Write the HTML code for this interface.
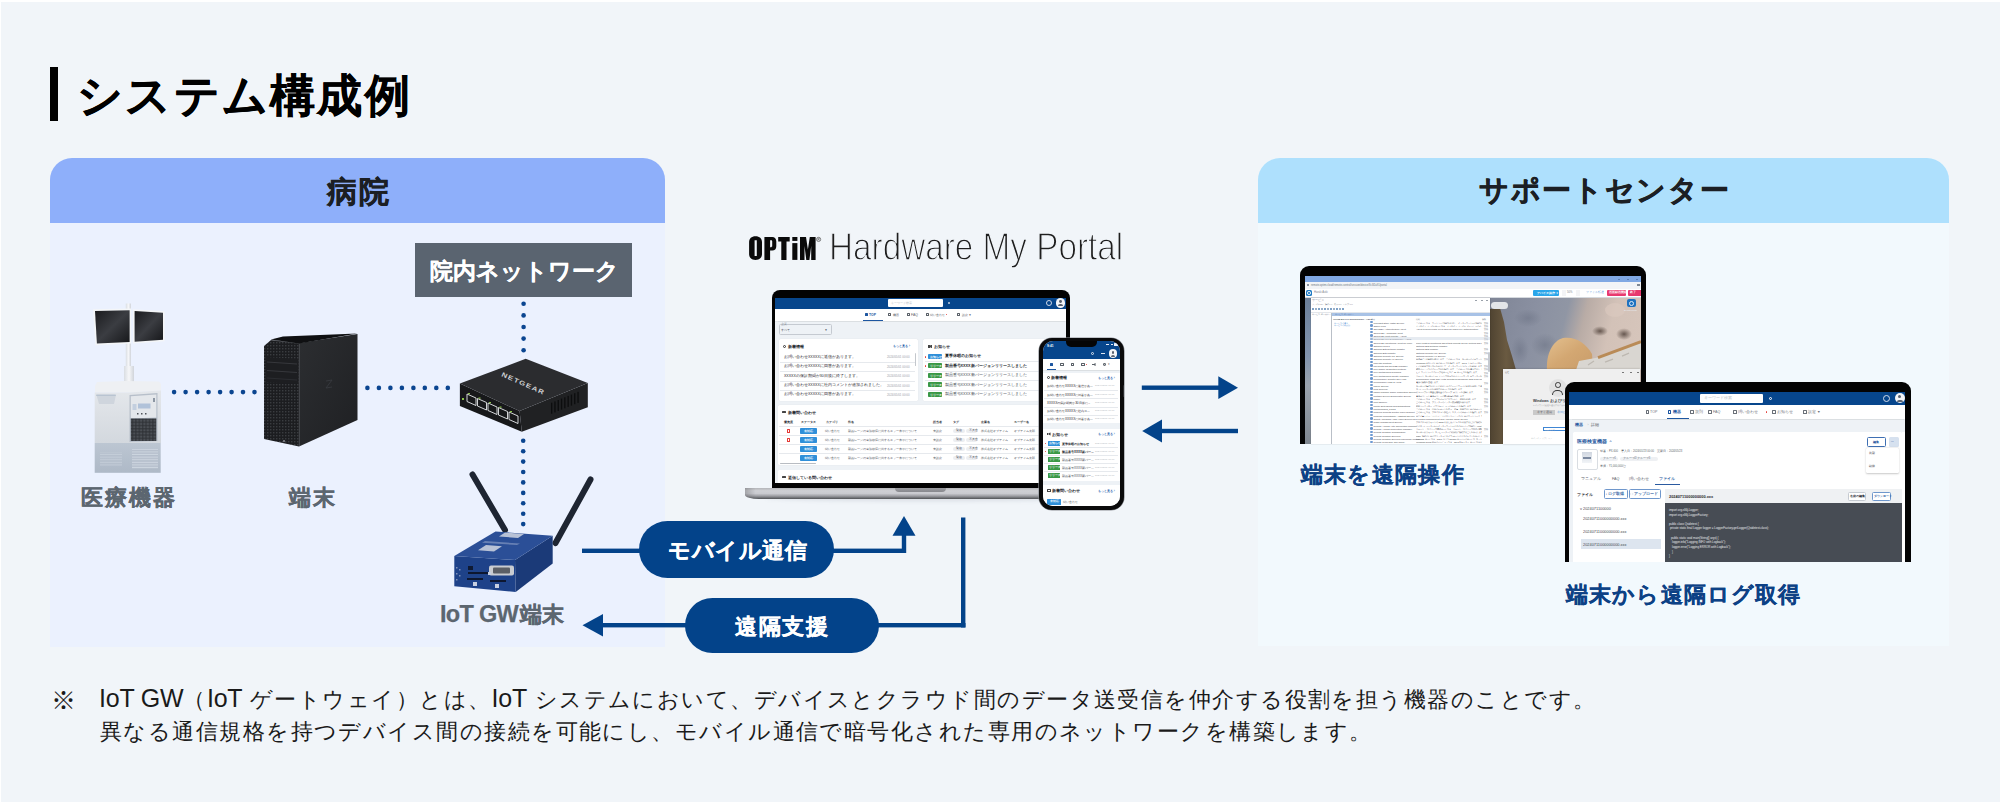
<!DOCTYPE html>
<html lang="ja">
<head>
<meta charset="utf-8">
<style>
*{box-sizing:border-box;margin:0;padding:0}
html,body{width:2001px;height:802px;overflow:hidden;background:#fff}
body{position:relative;font-family:"Liberation Sans",sans-serif}
.a{position:absolute}
.t{position:absolute;line-height:1;white-space:nowrap}
.b{-webkit-text-stroke-width:0.25px}
.bb{-webkit-text-stroke-width:0.5px}
#bg{left:1px;top:2px;width:1999px;height:800px;background:#f1f5f9}
.dot{position:absolute;width:4px;height:4px;border-radius:50%;background:#0b4a91}
</style>
</head>
<body>
<div id="bg" class="a"></div>

<!-- Title -->
<div class="a" style="left:50px;top:67px;width:7.6px;height:54px;background:#000"></div>
<div class="t" style="left:77px;top:73px;font-size:45px;font-weight:700;letter-spacing:2.3px;color:#000;-webkit-text-stroke:0.5px #000">システム構成例</div>

<!-- Hospital panel -->
<div class="a" style="left:50px;top:158px;width:615px;height:489px;background:#ebf1fe;border-radius:22px 22px 0 0;overflow:hidden">
  <div class="a" style="left:0;top:0;width:615px;height:65px;background:#8eaffa"></div>
</div>
<div class="t bb" style="left:327px;top:177px;font-size:29.5px;font-weight:700;letter-spacing:2px;color:#1c1f24">病院</div>

<!-- Net box -->
<div class="a" style="left:415px;top:242.5px;width:217px;height:54.5px;background:#5a6470"></div>
<div class="t b" style="left:430px;top:261px;font-size:22.5px;font-weight:700;letter-spacing:0px;color:#fff">院内ネットワーク</div>

<!-- Hospital devices -->
<svg class="a" style="left:0;top:0" width="700" height="660" viewBox="0 0 700 660">
  <defs>
    <linearGradient id="scr" x1="0" y1="0" x2="1" y2="1">
      <stop offset="0" stop-color="#1a1b1e"/><stop offset="0.5" stop-color="#3b3d42"/><stop offset="1" stop-color="#16171a"/>
    </linearGradient>
    <linearGradient id="pole" x1="0" y1="0" x2="1" y2="0">
      <stop offset="0" stop-color="#d9dde2"/><stop offset="0.5" stop-color="#f6f7f9"/><stop offset="1" stop-color="#d0d4da"/>
    </linearGradient>
    <linearGradient id="cabU" x1="0" y1="0" x2="0" y2="1">
      <stop offset="0" stop-color="#e4e7eb"/><stop offset="1" stop-color="#d3d8de"/>
    </linearGradient>
    <linearGradient id="cabL" x1="0" y1="0" x2="0" y2="1">
      <stop offset="0" stop-color="#bcc6d2"/><stop offset="1" stop-color="#aeb9c7"/>
    </linearGradient>
    <linearGradient id="pcside" x1="0" y1="0" x2="1" y2="1">
      <stop offset="0" stop-color="#2c2e31"/><stop offset="1" stop-color="#1f2023"/>
    </linearGradient>
    <pattern id="mesh" width="3" height="3" patternUnits="userSpaceOnUse">
      <rect width="3" height="3" fill="#1c1d20"/><rect width="1.4" height="1.4" fill="#3a3c40"/>
    </pattern>
    <pattern id="mesh2" width="3.4" height="3.2" patternUnits="userSpaceOnUse">
      <rect width="3.4" height="3.2" fill="#2e3135"/><rect x="0.4" y="0.4" width="2.4" height="2.2" fill="#4b4f55"/>
    </pattern>
    <pattern id="vent" width="3" height="2.6" patternUnits="userSpaceOnUse">
      <rect width="3" height="2.6" fill="#b5bfcc"/><rect y="1.6" width="3" height="0.8" fill="#d6dde6"/>
    </pattern>
  </defs>
  <!-- medical equipment -->
  <rect x="125.8" y="303.5" width="5.2" height="66" fill="url(#pole)"/>
  <rect x="124" y="366" width="10" height="21" fill="url(#pole)"/>
  <polygon points="93,309.3 131.2,308.4 131.2,343.5 95.4,345.3" fill="#f4f6f8"/>
  <polygon points="95,311 129.6,310.2 129.6,341.9 96.9,343.6" fill="url(#scr)"/>
  <polygon points="133,309.3 164.6,311.2 164.6,341.2 133,343.5" fill="#f4f6f8"/>
  <polygon points="134.6,311 163,312.7 163,339.7 134.6,341.8" fill="url(#scr)"/>
  <polygon points="95,386 97,382 125,381 159,381.5 161,384 161,390.5 128,392.6 95,392.6" fill="#eef0f3"/>
  <polygon points="94.7,392.6 128,392.6 161,390.5 161,443 94.7,443" fill="url(#cabU)"/>
  <path d="M96.5,395 L116,395 L114,404 L99,404 Z" fill="#cfd5dd"/>
  <rect x="96" y="394.5" width="20" height="1.6" rx="0.8" fill="#b9c4d1"/>
  <polygon points="129.5,395 157.5,393 157.5,441 129.5,442" fill="#b7bfca"/>
  <polygon points="130.8,396.2 156.3,394.4 156.3,417.5 130.8,418.5" fill="#e4e7eb"/>
  <rect x="132.5" y="404" width="4" height="6" fill="#c3cfdf"/>
  <rect x="138" y="403.5" width="12.5" height="5" fill="#b1c2d9"/>
  <rect x="153" y="398" width="2" height="4" fill="#8c96a3"/>
  <rect x="137" y="413" width="1.5" height="1.5" fill="#50545a"/><rect x="141" y="413" width="1.5" height="1.5" fill="#50545a"/><rect x="145" y="413" width="1.5" height="1.5" fill="#50545a"/>
  <rect x="130.8" y="418.5" width="25.5" height="22.5" fill="url(#mesh2)"/>
  <rect x="94.7" y="443" width="66" height="29.8" fill="url(#cabL)"/>
  <rect x="132" y="449" width="26" height="20" fill="url(#vent)"/>
  <rect x="100" y="452" width="22" height="14" fill="url(#vent)" opacity="0.6"/>
  <!-- PC tower -->
  <polygon points="299,343 357.5,334 357.5,420 299,446.5" fill="url(#pcside)"/>
  <polygon points="264,346 271,340 299,343 299,446.5 264,439" fill="url(#mesh)"/>
  <polygon points="266,357 298,359 298,384 266,382" fill="#1d1e21"/>
  <line x1="267" y1="362" x2="297" y2="364" stroke="#3c3e43" stroke-width="0.8"/>
  <line x1="267" y1="370.5" x2="297" y2="372.5" stroke="#3c3e43" stroke-width="0.8"/>
  <line x1="267" y1="378" x2="297" y2="380" stroke="#34363a" stroke-width="0.6"/>
  <line x1="299.3" y1="343.5" x2="299.3" y2="446" stroke="#4a4d52" stroke-width="1"/>
  <line x1="271" y1="340" x2="299" y2="343.2" stroke="#55585d" stroke-width="0.8"/>
  <circle cx="284" cy="441" r="1" fill="#8a8d92"/>
  <polygon points="271,339.5 283,336.5 357.5,333.5 299,343.5" fill="#0f1012"/>
  <path d="M326,381 l6,-1 l-6,8 l6,-1" stroke="#3a3c41" stroke-width="0.8" fill="none"/>
  <!-- network switch -->
  <polygon points="459.9,383.4 519.6,411.1 521.8,431.7 459.9,406.1" fill="#17181a"/>
  <polygon points="519.6,411.1 587.8,383.1 587.8,407.2 521.8,431.7" fill="#202123"/>
  <polygon points="525.7,358.8 587.8,383.1 519.6,411.1 459.9,383.4" fill="#2b2c2f"/>
  <g fill="none" stroke="#e8eaec" stroke-width="0.9">
    <polygon points="467,394 476,398 476,405.5 467,401.5"/>
    <polygon points="477.5,398.5 486.5,402.5 486.5,410 477.5,406"/>
    <polygon points="488,403 497,407 497,414.5 488,410.5"/>
    <polygon points="498.5,407.5 507.5,411.5 507.5,419 498.5,415"/>
    <polygon points="509,412 518,416 518,423.5 509,419.5"/>
  </g>
  <g fill="#8bc34a">
    <rect x="468" y="393" width="2" height="1.2"/><rect x="478.5" y="397.5" width="2" height="1.2"/><rect x="489" y="402" width="2" height="1.2"/><rect x="499.5" y="406.5" width="2" height="1.2"/><rect x="510" y="411" width="2" height="1.2"/><rect x="462" y="398" width="2" height="2"/>
  </g>
  <g><rect x="551.0" y="402.7" width="1.3" height="11" fill="#0c0d0e"/><rect x="554.3" y="401.4" width="1.3" height="11" fill="#0c0d0e"/><rect x="557.6" y="400.0" width="1.3" height="11" fill="#0c0d0e"/><rect x="560.9" y="398.6" width="1.3" height="11" fill="#0c0d0e"/><rect x="564.2" y="397.3" width="1.3" height="11" fill="#0c0d0e"/><rect x="567.5" y="395.9" width="1.3" height="11" fill="#0c0d0e"/><rect x="570.8" y="394.6" width="1.3" height="11" fill="#0c0d0e"/><rect x="574.1" y="393.2" width="1.3" height="11" fill="#0c0d0e"/><rect x="577.4" y="391.9" width="1.3" height="11" fill="#0c0d0e"/></g>
  <text x="0" y="0" transform="translate(501,376) rotate(24) scale(1,0.8)" font-family="Liberation Sans" font-weight="700" font-size="8" letter-spacing="1.1" fill="#cfd1d4">NETGEAR</text>
  <!-- IoT router antennas -->
  <line x1="472.5" y1="474.5" x2="505" y2="530" stroke="#1e2532" stroke-width="6" stroke-linecap="round"/>
  <line x1="590.5" y1="479.5" x2="555.5" y2="543" stroke="#1e2532" stroke-width="6" stroke-linecap="round"/>
  <!-- IoT router body -->
  <polygon points="454.3,555.9 515,560 515.7,592.1 454.3,586.2" fill="#1e4289"/>
  <polygon points="515,560 552.7,535.7 552.7,563.5 515.7,592.1" fill="#1b3a78"/>
  <polygon points="454.3,555.9 495.5,531.5 552.7,535.7 515,560" fill="#2b4f97"/>
  <polygon points="505,532.5 524,534 518,538 499,536.5" fill="#b8c2d6"/>
  <polygon points="486,545 502,546.2 494,551.5 478,550.3" fill="#b8c2d6"/>
  <polygon points="485,541 520,543.5 517,545 482,542.8" fill="#8fa2c8" opacity="0.6"/>
  <rect x="489" y="565.5" width="25" height="10" rx="2" fill="#c9ccd1"/>
  <rect x="493" y="567.5" width="17" height="6" rx="1" fill="#5b5f66"/>
  <rect x="468" y="566" width="5" height="4" fill="#0f1a33"/>
  <rect x="468" y="572" width="20" height="2" fill="#0d1730"/>
  <rect x="467" y="578" width="16" height="2" fill="#0d1730"/>
  <rect x="490" y="580" width="16" height="2" fill="#0d1730"/>
  <rect x="473" y="582" width="4" height="4" fill="#c8d0e0"/>
  <rect x="495" y="584" width="4" height="4" fill="#c8d0e0"/>
  <rect x="488" y="572" width="3" height="3" fill="#c8d0e0"/>
  <g fill="#7d8fb8"><rect x="456" y="567" width="1.5" height="1.5"/><rect x="459" y="569" width="1.5" height="1.5"/><rect x="456" y="573" width="1.5" height="1.5"/><rect x="459" y="575" width="1.5" height="1.5"/><rect x="456" y="579" width="1.5" height="1.5"/></g>
  <!-- dots -->
  <g fill="#0a4590">
  <circle cx="174.1" cy="392.1" r="2.3"/><circle cx="185.6" cy="392.1" r="2.3"/><circle cx="197.1" cy="392.1" r="2.3"/><circle cx="208.6" cy="392.1" r="2.3"/><circle cx="220.1" cy="392.1" r="2.3"/><circle cx="231.6" cy="392.1" r="2.3"/><circle cx="243.0" cy="392.1" r="2.3"/><circle cx="254.5" cy="392.1" r="2.3"/><circle cx="367.4" cy="387.9" r="2.3"/><circle cx="378.9" cy="387.9" r="2.3"/><circle cx="390.4" cy="387.9" r="2.3"/><circle cx="401.9" cy="387.9" r="2.3"/><circle cx="413.4" cy="387.9" r="2.3"/><circle cx="424.8" cy="387.9" r="2.3"/><circle cx="436.3" cy="387.9" r="2.3"/><circle cx="447.8" cy="387.9" r="2.3"/><circle cx="523.6" cy="303.8" r="2.3"/><circle cx="523.6" cy="315.4" r="2.3"/><circle cx="523.6" cy="327.0" r="2.3"/><circle cx="523.6" cy="338.6" r="2.3"/><circle cx="523.6" cy="350.2" r="2.3"/><circle cx="523.2" cy="440.8" r="2.3"/><circle cx="523.2" cy="451.2" r="2.3"/><circle cx="523.2" cy="461.6" r="2.3"/><circle cx="523.2" cy="472.0" r="2.3"/><circle cx="523.2" cy="482.4" r="2.3"/><circle cx="523.2" cy="492.9" r="2.3"/><circle cx="523.2" cy="503.3" r="2.3"/><circle cx="523.2" cy="513.7" r="2.3"/><circle cx="523.2" cy="524.1" r="2.3"/>
  </g>
</svg>

<!-- Labels -->
<div class="t b" style="left:81px;top:487px;font-size:22px;font-weight:700;letter-spacing:2px;color:#5c6670">医療機器</div>
<div class="t b" style="left:289px;top:487px;font-size:22px;font-weight:700;letter-spacing:1.8px;color:#5c6670">端末</div>
<div class="t b" style="left:440px;top:603px;font-size:22px;font-weight:700;letter-spacing:0.4px;color:#5c6670"><span style="font-size:23.5px;letter-spacing:-0.7px;margin-right:1.8px">IoT GW</span>端末</div>

<!-- Support panel -->
<div class="a" style="left:1258px;top:158px;width:691px;height:488px;background:#f2f9fd;border-radius:22px 22px 0 0;overflow:hidden">
  <div class="a" style="left:0;top:0;width:691px;height:65px;background:#aee0fd"></div>
</div>
<div class="t bb" style="left:1479px;top:175.5px;font-size:29px;font-weight:700;letter-spacing:1.7px;color:#1c1f24">サポートセンター</div>

<div class="t b" style="left:1300.5px;top:464px;font-size:22px;font-weight:700;letter-spacing:1.4px;color:#0d4185">端末を遠隔操作</div>
<div class="t b" style="left:1566px;top:584px;font-size:22px;font-weight:700;letter-spacing:1.15px;color:#0d4185">端末から遠隔ログ取得</div>

<!-- Pills -->
<div class="a" style="left:639px;top:521px;width:194.5px;height:57px;border-radius:28.5px;background:#03438a"></div>
<div class="t b" style="left:668px;top:540px;font-size:22px;font-weight:700;letter-spacing:0.55px;color:#fff">モバイル通信</div>
<div class="a" style="left:684.5px;top:597.5px;width:194px;height:55.5px;border-radius:28px;background:#03438a"></div>
<div class="t b" style="left:735px;top:616px;font-size:22px;font-weight:700;letter-spacing:1.7px;color:#fff">遠隔支援</div>

<!-- Connectors -->
<svg class="a" style="left:0;top:0" width="2001" height="802" viewBox="0 0 2001 802">
  <g fill="#03438a">
    <rect x="582" y="548.6" width="58" height="4.4"/>
    <rect x="832" y="548.6" width="74" height="4.4"/>
    <rect x="901.8" y="534" width="4.4" height="19"/>
    <polygon points="904,516 892.5,535.8 915.5,535.8"/>
    <rect x="877" y="623" width="88.5" height="4.4"/>
    <rect x="961" y="517.5" width="4.4" height="110"/>
    <rect x="600" y="623" width="86" height="4.4"/>
    <polygon points="582.5,625.2 603,614 603,636.6"/>
    <rect x="1141.8" y="385.5" width="78" height="4.4"/>
    <polygon points="1238,387.7 1218.3,376.2 1218.3,399"/>
    <rect x="1160" y="428.8" width="78" height="4.4"/>
    <polygon points="1142.2,431 1162,419.6 1162,442.5"/>
  </g>
</svg>

<!-- Central mockup -->
<div class="a" style="left:765px;top:494px;width:320px;height:7px;border-radius:50%;background:rgba(60,70,90,0.13);filter:blur(2px)"></div>
<div class="a" style="left:745.0px;top:487.8px;width:351.2px;height:11.4px;background:linear-gradient(90deg,rgba(90,90,95,0.35),rgba(0,0,0,0) 3%,rgba(0,0,0,0) 97%,rgba(90,90,95,0.35)),linear-gradient(#b4b5b9 0%,#cfd0d4 25%,#c9cacf 50%,#9fa0a5 72%,#6c6e72 90%,#4f5155 100%);border-radius:0 0 14px 14px/0 0 4px 4px"></div>
<div class="a" style="left:894.8px;top:487.8px;width:51.5px;height:4.4px;background:linear-gradient(#9a9ba0,#88898e);border-radius:0 0 5px 5px"></div>
<div class="a" style="left:771.5px;top:289.5px;width:298.2px;height:198.5px;background:#030303;border-radius:8px 8px 0 0"></div>
<div class="a" style="left:775.2px;top:297.7px;width:290.8px;height:185.3px;background:#eef2f6;"></div>
<div class="a" style="left:775.2px;top:297.7px;width:290.8px;height:11.3px;background:#07468c;"></div>
<div class="a" style="left:888.0px;top:299.2px;width:55.2px;height:7.5px;background:#fff;border-radius:1px"></div>
<div class="t" style="left:891.0px;top:302.0px;font-size:3.3px;color:#b8bec6;font-weight:400;">キーワード検索</div>
<div class="a" style="left:947.7px;top:301.5px;width:2.6px;height:2.6px;border-radius:50%;background:none;border:0.8px solid #fff"></div>
<div class="a" style="left:1045.7px;top:299.7px;width:6.6px;height:6.6px;border-radius:50%;background:none;border:0.8px solid #cfd8e6"></div>
<div class="a" style="left:1055.9px;top:298.4px;width:9.2px;height:9.2px;border-radius:50%;background:#f3f5f8;"></div>
<div class="a" style="left:1059.1px;top:300.2px;width:2.8px;height:2.8px;border-radius:50%;background:#5a6270;"></div>
<div class="a" style="left:1057.8px;top:304.2px;width:5.4px;height:1.8px;background:#5a6270;border-radius:2px 2px 0 0"></div>
<div class="a" style="left:775.2px;top:309.0px;width:290.8px;height:11.6px;background:#fff;box-shadow:0 0.5px 1px rgba(0,0,0,0.08)"></div>
<div class="a" style="left:864.5px;top:313.0px;width:3.0px;height:3.2px;background:#1d56a0;border-radius:0.5px"></div>
<div class="t" style="left:869.0px;top:313.5px;font-size:3.4px;color:#1d56a0;font-weight:700;">TOP</div>
<div class="a" style="left:863.0px;top:319.6px;width:20.3px;height:1.0px;background:#1d56a0;"></div>
<div class="a" style="left:888.0px;top:313.1px;width:3.2px;height:3.0px;background:none;border:0.6px solid #5a6068;border-radius:0.6px"></div>
<div class="t" style="left:892.5px;top:313.5px;font-size:3.4px;color:#5a6068;font-weight:400;">機器</div>
<div class="a" style="left:906.5px;top:313.1px;width:3.2px;height:3.0px;background:none;border:0.6px solid #5a6068;border-radius:0.6px"></div>
<div class="t" style="left:911.0px;top:313.5px;font-size:3.4px;color:#5a6068;font-weight:400;">FAQ</div>
<div class="a" style="left:925.5px;top:313.1px;width:3.2px;height:3.0px;background:none;border:0.6px solid #5a6068;border-radius:0.6px"></div>
<div class="t" style="left:930.0px;top:313.5px;font-size:3.4px;color:#5a6068;font-weight:400;">問い合わせ</div>
<div class="a" style="left:957.0px;top:313.1px;width:3.2px;height:3.0px;background:none;border:0.6px solid #5a6068;border-radius:0.6px"></div>
<div class="t" style="left:961.5px;top:313.5px;font-size:3.4px;color:#5a6068;font-weight:400;">設定</div>
<div class="a" style="left:945.6px;top:313.7px;width:1.8px;height:1.8px;border-radius:50%;background:#e53935;"></div>
<div class="t" style="left:968.5px;top:313.7px;font-size:3px;color:#5a6068;font-weight:400;">▼</div>
<div class="a" style="left:778.5px;top:324.2px;width:53.9px;height:10.9px;background:transparent;border:0.6px solid #c5cad1;border-radius:1.5px"></div>
<div class="t" style="left:781.0px;top:324.3px;font-size:2.6px;color:#8a9099;font-weight:400;">企業</div>
<div class="t" style="left:781.0px;top:329.0px;font-size:3.3px;color:#40464e;font-weight:400;">すべて</div>
<div class="t" style="left:824.5px;top:329.1px;font-size:3px;color:#4a5058;font-weight:400;">▼</div>
<div class="a" style="left:778.5px;top:339.2px;width:139.9px;height:61.8px;background:#fff;border-radius:1.5px;box-shadow:0 0 1px rgba(0,0,0,0.12)"></div>
<div class="a" style="left:782.7px;top:344.6px;width:3.6px;height:3.6px;border-radius:50%;background:none;border:0.7px solid #333"></div>
<div class="t" style="left:788.0px;top:344.9px;font-size:4.1px;color:#26292e;font-weight:700;">新着情報</div>
<div class="t" style="left:893.0px;top:345.4px;font-size:3.3px;color:#2c63ad;font-weight:700;">もっと見る ›</div>
<div class="t" style="left:784.0px;top:355.8px;font-size:3.55px;color:#1e2228;font-weight:400;">お問い合わせXXXXXに返信があります。</div>
<div class="t" style="left:887.0px;top:356.2px;font-size:2.9px;color:#9aa0a8;font-weight:400;">2024/05/01 00:00</div>
<div class="a" style="left:780.0px;top:361.6px;width:135.0px;height:0.5px;background:#e6e9ed;"></div>
<div class="t" style="left:784.0px;top:365.3px;font-size:3.55px;color:#1e2228;font-weight:400;">お問い合わせXXXXXに回答があります。</div>
<div class="t" style="left:887.0px;top:365.7px;font-size:2.9px;color:#9aa0a8;font-weight:400;">2024/05/01 00:00</div>
<div class="a" style="left:780.0px;top:371.1px;width:135.0px;height:0.5px;background:#e6e9ed;"></div>
<div class="t" style="left:784.0px;top:374.8px;font-size:3.55px;color:#1e2228;font-weight:400;">XXXXXの保証期間が30日後に終了します。</div>
<div class="t" style="left:887.0px;top:375.2px;font-size:2.9px;color:#9aa0a8;font-weight:400;">2024/05/01 00:00</div>
<div class="a" style="left:780.0px;top:380.6px;width:135.0px;height:0.5px;background:#e6e9ed;"></div>
<div class="t" style="left:784.0px;top:384.1px;font-size:3.55px;color:#1e2228;font-weight:400;">お問い合わせXXXXXに社内コメントが追加されました。</div>
<div class="t" style="left:887.0px;top:384.5px;font-size:2.9px;color:#9aa0a8;font-weight:400;">2024/05/01 00:00</div>
<div class="a" style="left:780.0px;top:389.9px;width:135.0px;height:0.5px;background:#e6e9ed;"></div>
<div class="t" style="left:784.0px;top:393.4px;font-size:3.55px;color:#1e2228;font-weight:400;">お問い合わせXXXXXに回答があります。</div>
<div class="t" style="left:887.0px;top:393.8px;font-size:2.9px;color:#9aa0a8;font-weight:400;">2024/05/01 00:00</div>
<div class="a" style="left:915.0px;top:353.0px;width:1.4px;height:13.0px;background:#c3c7cc;border-radius:1px"></div>
<div class="a" style="left:923.0px;top:339.2px;width:141.0px;height:61.8px;background:#fff;border-radius:1.5px;box-shadow:0 0 1px rgba(0,0,0,0.12)"></div>
<div class="a" style="left:928.0px;top:345.2px;width:1.6px;height:2.4px;background:#444;"></div>
<div class="a" style="left:929.6px;top:344.6px;width:2.4px;height:3.6px;background:#444;clip-path:polygon(0 30%,100% 0,100% 100%,0 70%)"></div>
<div class="t" style="left:934.0px;top:344.9px;font-size:4.1px;color:#26292e;font-weight:700;">お知らせ</div>
<div class="a" style="left:928.0px;top:354.1px;width:14.4px;height:5.0px;background:#2f8fd9;border-radius:0.8px"></div>
<div class="t" style="left:929.5px;top:355.9px;font-size:2.8px;color:#fff;font-weight:700;">お知らせ</div>
<div class="a" style="left:924.7px;top:355.8px;width:1.8px;height:1.8px;border-radius:50%;background:#e53935;"></div>
<div class="t" style="left:944.5px;top:355.4px;font-size:3.8px;color:#23272d;font-weight:700;">夏季休暇のお知らせ</div>
<div class="a" style="left:925.0px;top:361.3px;width:135.0px;height:0.5px;background:#e6e9ed;"></div>
<div class="a" style="left:928.0px;top:363.4px;width:14.4px;height:5.0px;background:#3a9846;border-radius:0.8px"></div>
<div class="t" style="left:929.5px;top:365.2px;font-size:2.8px;color:#fff;font-weight:700;">リリース</div>
<div class="a" style="left:924.7px;top:365.1px;width:1.8px;height:1.8px;border-radius:50%;background:#e53935;"></div>
<div class="t" style="left:944.5px;top:364.7px;font-size:3.8px;color:#23272d;font-weight:700;">製品番号XXXX新バージョンリリースしました</div>
<div class="a" style="left:925.0px;top:370.6px;width:135.0px;height:0.5px;background:#e6e9ed;"></div>
<div class="a" style="left:928.0px;top:372.9px;width:14.4px;height:5.0px;background:#3a9846;border-radius:0.8px"></div>
<div class="t" style="left:929.5px;top:374.7px;font-size:2.8px;color:#fff;font-weight:700;">リリース</div>
<div class="t" style="left:944.5px;top:374.2px;font-size:3.8px;color:#4a5058;font-weight:400;">製品番号XXXX新バージョンリリースしました</div>
<div class="a" style="left:925.0px;top:380.1px;width:135.0px;height:0.5px;background:#e6e9ed;"></div>
<div class="a" style="left:928.0px;top:382.4px;width:14.4px;height:5.0px;background:#3a9846;border-radius:0.8px"></div>
<div class="t" style="left:929.5px;top:384.2px;font-size:2.8px;color:#fff;font-weight:700;">リリース</div>
<div class="t" style="left:944.5px;top:383.7px;font-size:3.8px;color:#4a5058;font-weight:400;">製品番号XXXX新バージョンリリースしました</div>
<div class="a" style="left:925.0px;top:389.6px;width:135.0px;height:0.5px;background:#e6e9ed;"></div>
<div class="a" style="left:928.0px;top:391.9px;width:14.4px;height:5.0px;background:#3a9846;border-radius:0.8px"></div>
<div class="t" style="left:929.5px;top:393.7px;font-size:2.8px;color:#fff;font-weight:700;">リリース</div>
<div class="t" style="left:944.5px;top:393.2px;font-size:3.8px;color:#4a5058;font-weight:400;">製品番号XXXX新バージョンリリースしました</div>
<div class="a" style="left:778.4px;top:404.8px;width:285.6px;height:60.0px;background:#fff;border-radius:1.5px;box-shadow:0 0 1px rgba(0,0,0,0.12)"></div>
<div class="a" style="left:782.0px;top:410.5px;width:4.0px;height:2.8px;background:none;border:0.6px solid #444;border-radius:0.5px"></div>
<div class="t" style="left:788.0px;top:410.6px;font-size:4.1px;color:#26292e;font-weight:700;">新着問い合わせ</div>
<div class="t" style="left:784.0px;top:421.4px;font-size:3.1px;color:#2b3036;font-weight:700;">優先度</div>
<div class="t" style="left:801.0px;top:421.4px;font-size:3.1px;color:#2b3036;font-weight:700;">ステータス</div>
<div class="t" style="left:826.0px;top:421.4px;font-size:3.1px;color:#2b3036;font-weight:700;">カテゴリ</div>
<div class="t" style="left:848.0px;top:421.4px;font-size:3.1px;color:#2b3036;font-weight:700;">件名</div>
<div class="t" style="left:933.0px;top:421.4px;font-size:3.1px;color:#2b3036;font-weight:700;">担当者</div>
<div class="t" style="left:953.0px;top:421.4px;font-size:3.1px;color:#2b3036;font-weight:700;">タグ</div>
<div class="t" style="left:981.0px;top:421.4px;font-size:3.1px;color:#2b3036;font-weight:700;">企業名</div>
<div class="t" style="left:1014.0px;top:421.4px;font-size:3.1px;color:#2b3036;font-weight:700;">ユーザー名</div>
<div class="a" style="left:779.0px;top:426.4px;width:285.0px;height:0.5px;background:#e6e9ed;"></div>
<div class="a" style="left:787.0px;top:429.4px;width:3.2px;height:3.2px;background:#fff;border:0.6px solid #e53935;border-radius:0.5px"></div>
<div class="a" style="left:800.0px;top:428.4px;width:17.0px;height:5.2px;background:#2f8fd9;border-radius:0.8px"></div>
<div class="t" style="left:804.0px;top:430.2px;font-size:2.8px;color:#fff;font-weight:700;">未対応</div>
<div class="t" style="left:825.0px;top:430.1px;font-size:3.1px;color:#4f555d;font-weight:400;">問い合わせ</div>
<div class="t" style="left:848.0px;top:430.1px;font-size:3.1px;color:#4f555d;font-weight:400;">製品レーンの電源故障に関するエラー表示について</div>
<div class="t" style="left:933.0px;top:430.1px;font-size:3.1px;color:#4f555d;font-weight:400;">未設定</div>
<div class="a" style="left:953.0px;top:428.9px;width:12.0px;height:4.2px;background:#eceef1;border-radius:2px"></div>
<div class="a" style="left:966.0px;top:428.9px;width:11.0px;height:4.2px;background:#eceef1;border-radius:2px"></div>
<div class="t" style="left:956.0px;top:430.2px;font-size:2.7px;color:#4f555d;font-weight:400;">緊急</div>
<div class="t" style="left:968.5px;top:430.2px;font-size:2.7px;color:#4f555d;font-weight:400;">不具合</div>
<div class="t" style="left:981.0px;top:430.1px;font-size:3.1px;color:#4f555d;font-weight:400;">株式会社オプティム</div>
<div class="t" style="left:1014.0px;top:430.1px;font-size:3.1px;color:#4f555d;font-weight:400;">オプティム太郎</div>
<div class="a" style="left:779.0px;top:435.4px;width:285.0px;height:0.5px;background:#e6e9ed;"></div>
<div class="a" style="left:787.0px;top:438.4px;width:3.2px;height:3.2px;background:#fff;border:0.6px solid #e53935;border-radius:0.5px"></div>
<div class="a" style="left:800.0px;top:437.4px;width:17.0px;height:5.2px;background:#2f8fd9;border-radius:0.8px"></div>
<div class="t" style="left:804.0px;top:439.2px;font-size:2.8px;color:#fff;font-weight:700;">未対応</div>
<div class="t" style="left:825.0px;top:439.1px;font-size:3.1px;color:#4f555d;font-weight:400;">問い合わせ</div>
<div class="t" style="left:848.0px;top:439.1px;font-size:3.1px;color:#4f555d;font-weight:400;">製品レーンの電源故障に関するエラー表示について</div>
<div class="t" style="left:933.0px;top:439.1px;font-size:3.1px;color:#4f555d;font-weight:400;">未設定</div>
<div class="a" style="left:953.0px;top:437.9px;width:12.0px;height:4.2px;background:#eceef1;border-radius:2px"></div>
<div class="a" style="left:966.0px;top:437.9px;width:11.0px;height:4.2px;background:#eceef1;border-radius:2px"></div>
<div class="t" style="left:956.0px;top:439.2px;font-size:2.7px;color:#4f555d;font-weight:400;">緊急</div>
<div class="t" style="left:968.5px;top:439.2px;font-size:2.7px;color:#4f555d;font-weight:400;">不具合</div>
<div class="t" style="left:981.0px;top:439.1px;font-size:3.1px;color:#4f555d;font-weight:400;">株式会社オプティム</div>
<div class="t" style="left:1014.0px;top:439.1px;font-size:3.1px;color:#4f555d;font-weight:400;">オプティム太郎</div>
<div class="a" style="left:779.0px;top:444.4px;width:285.0px;height:0.5px;background:#e6e9ed;"></div>
<div class="a" style="left:800.0px;top:446.4px;width:17.0px;height:5.2px;background:#2f8fd9;border-radius:0.8px"></div>
<div class="t" style="left:804.0px;top:448.2px;font-size:2.8px;color:#fff;font-weight:700;">未対応</div>
<div class="t" style="left:825.0px;top:448.1px;font-size:3.1px;color:#4f555d;font-weight:400;">問い合わせ</div>
<div class="t" style="left:848.0px;top:448.1px;font-size:3.1px;color:#4f555d;font-weight:400;">製品レーンの電源故障に関するエラー表示について</div>
<div class="t" style="left:933.0px;top:448.1px;font-size:3.1px;color:#4f555d;font-weight:400;">未設定</div>
<div class="a" style="left:953.0px;top:446.9px;width:12.0px;height:4.2px;background:#eceef1;border-radius:2px"></div>
<div class="a" style="left:966.0px;top:446.9px;width:11.0px;height:4.2px;background:#eceef1;border-radius:2px"></div>
<div class="t" style="left:956.0px;top:448.2px;font-size:2.7px;color:#4f555d;font-weight:400;">緊急</div>
<div class="t" style="left:968.5px;top:448.2px;font-size:2.7px;color:#4f555d;font-weight:400;">不具合</div>
<div class="t" style="left:981.0px;top:448.1px;font-size:3.1px;color:#4f555d;font-weight:400;">株式会社オプティム</div>
<div class="t" style="left:1014.0px;top:448.1px;font-size:3.1px;color:#4f555d;font-weight:400;">オプティム太郎</div>
<div class="a" style="left:779.0px;top:453.4px;width:285.0px;height:0.5px;background:#e6e9ed;"></div>
<div class="a" style="left:800.0px;top:455.4px;width:17.0px;height:5.2px;background:#2f8fd9;border-radius:0.8px"></div>
<div class="t" style="left:804.0px;top:457.2px;font-size:2.8px;color:#fff;font-weight:700;">未対応</div>
<div class="t" style="left:825.0px;top:457.1px;font-size:3.1px;color:#4f555d;font-weight:400;">問い合わせ</div>
<div class="t" style="left:848.0px;top:457.1px;font-size:3.1px;color:#4f555d;font-weight:400;">製品レーンの電源故障に関するエラー表示について</div>
<div class="t" style="left:933.0px;top:457.1px;font-size:3.1px;color:#4f555d;font-weight:400;">未設定</div>
<div class="a" style="left:953.0px;top:455.9px;width:12.0px;height:4.2px;background:#eceef1;border-radius:2px"></div>
<div class="a" style="left:966.0px;top:455.9px;width:11.0px;height:4.2px;background:#eceef1;border-radius:2px"></div>
<div class="t" style="left:956.0px;top:457.2px;font-size:2.7px;color:#4f555d;font-weight:400;">緊急</div>
<div class="t" style="left:968.5px;top:457.2px;font-size:2.7px;color:#4f555d;font-weight:400;">不具合</div>
<div class="t" style="left:981.0px;top:457.1px;font-size:3.1px;color:#4f555d;font-weight:400;">株式会社オプティム</div>
<div class="t" style="left:1014.0px;top:457.1px;font-size:3.1px;color:#4f555d;font-weight:400;">オプティム太郎</div>
<div class="a" style="left:780.0px;top:462.5px;width:36.0px;height:1.1px;background:#b8bcc2;border-radius:1px"></div>
<div class="a" style="left:778.4px;top:469.6px;width:285.6px;height:13.4px;background:#fff;border-radius:1.5px 1.5px 0 0"></div>
<div class="a" style="left:782.0px;top:475.6px;width:4.0px;height:2.8px;background:none;border:0.6px solid #444;border-radius:0.5px"></div>
<div class="t" style="left:788.0px;top:475.6px;font-size:4.1px;color:#26292e;font-weight:700;">返信している問い合わせ</div>
<div class="a" style="left:1038.8px;top:338px;width:85px;height:172px;border-radius:13px;background:#0a0a0b;box-shadow:0 0 0 0.6px #8d9096"></div>
<div class="a" style="left:1122.6px;top:385.0px;width:1.7px;height:12.0px;background:#2a2b2e;border-radius:1px"></div>
<div class="a" style="left:1042.5px;top:341.2px;width:77.5px;height:165.1px;border-radius:10px;background:#eef2f6;overflow:hidden">
<div class="a" style="left:0.0px;top:0.0px;width:77.5px;height:18.3px;background:#07468c;"></div>
<div class="a" style="left:23.2px;top:-1.0px;width:31.1px;height:7.3px;background:#050505;border-radius:0 0 5px 5px"></div>
<div class="t" style="left:4.5px;top:3.8px;font-size:3.3px;color:#eef3fa;font-weight:700">9:41</div>
<div class="a" style="left:63.5px;top:2.5px;width:3.0px;height:1.6px;background:#e8eef7;"></div>
<div class="a" style="left:68.0px;top:2.5px;width:2.5px;height:1.6px;background:#e8eef7;"></div>
<div class="a" style="left:71.5px;top:2.1px;width:4.0px;height:2.4px;background:#e8eef7;border-radius:0.5px"></div>
<div class="a" style="left:48.5px;top:10.8px;width:3.0px;height:3.0px;background:none;border-radius:50%;border:0.8px solid #dfe6f0"></div>
<div class="a" style="left:58.5px;top:12.2px;width:4.0px;height:0.9px;background:#dfe6f0;"></div>
<div class="a" style="left:66.1px;top:8.2px;width:8.8px;height:8.8px;background:#f3f5f8;border-radius:50%;"></div>
<div class="a" style="left:69.2px;top:9.9px;width:2.6px;height:2.6px;background:#5a6270;border-radius:50%;"></div>
<div class="a" style="left:68.1px;top:13.8px;width:4.8px;height:1.8px;background:#5a6270;border-radius:2px 2px 0 0"></div>
<div class="a" style="left:0.0px;top:18.3px;width:77.5px;height:10.1px;background:#fff;box-shadow:0 0.5px 1px rgba(0,0,0,0.08)"></div>
<div class="a" style="left:7.0px;top:21.8px;width:3.5px;height:3.2px;background:#1d56a0;border-radius:0.5px"></div>
<div class="a" style="left:4.1px;top:27.4px;width:9.9px;height:1.0px;background:#1d56a0;"></div>
<div class="a" style="left:17.8px;top:21.7px;width:3.4px;height:3.2px;background:none;border:0.6px solid #5a6068;border-radius:0.6px"></div>
<div class="a" style="left:28.3px;top:21.7px;width:3.4px;height:3.2px;background:none;border:0.6px solid #5a6068;border-radius:0.6px"></div>
<div class="a" style="left:38.8px;top:21.7px;width:3.4px;height:3.2px;background:none;border:0.6px solid #5a6068;border-radius:0.6px"></div>
<div class="a" style="left:43.0px;top:22.5px;width:1.6px;height:1.6px;background:#e53935;border-radius:50%;"></div>
<div class="a" style="left:49.8px;top:22.4px;width:1.3px;height:1.8px;background:#5a6068;"></div>
<div class="a" style="left:51.1px;top:21.8px;width:2.0px;height:3.0px;background:#5a6068;clip-path:polygon(0 30%,100% 0,100% 100%,0 70%)"></div>
<div class="a" style="left:60.5px;top:21.7px;width:3.4px;height:3.2px;background:none;border:0.6px solid #5a6068;border-radius:50%"></div>
<div class="t" style="left:65.0px;top:22.6px;font-size:2.6px;color:#5a6068;font-weight:400">▼</div>
<div class="a" style="left:0.5px;top:31.4px;width:76.5px;height:50.7px;background:#fff;"></div>
<div class="a" style="left:4.2px;top:34.7px;width:3.2px;height:3.2px;background:none;border-radius:50%;border:0.6px solid #333"></div>
<div class="t" style="left:8.5px;top:35.0px;font-size:3.9px;color:#26292e;font-weight:700">新着情報</div>
<div class="t" style="left:55.5px;top:35.4px;font-size:3px;color:#2c63ad;font-weight:700">もっと見る ›</div>
<div class="t" style="left:4.5px;top:43.9px;font-size:3.05px;color:#1e2228;font-weight:400">お問い合わせXXXXXに返信があ...</div>
<div class="t" style="left:52.5px;top:44.2px;font-size:2.5px;color:#b5bac1;font-weight:400">2024/05/01 00:00</div>
<div class="a" style="left:1.5px;top:48.5px;width:74.0px;height:0.5px;background:#e6e9ed;"></div>
<div class="t" style="left:4.5px;top:52.4px;font-size:3.05px;color:#1e2228;font-weight:400">お問い合わせXXXXXに回答があ...</div>
<div class="t" style="left:52.5px;top:52.7px;font-size:2.5px;color:#b5bac1;font-weight:400">2024/05/01 00:00</div>
<div class="a" style="left:1.5px;top:57.0px;width:74.0px;height:0.5px;background:#e6e9ed;"></div>
<div class="t" style="left:4.5px;top:60.9px;font-size:3.05px;color:#1e2228;font-weight:400">XXXXXの保証期間が30日後に...</div>
<div class="t" style="left:52.5px;top:61.2px;font-size:2.5px;color:#b5bac1;font-weight:400">2024/05/01 00:00</div>
<div class="a" style="left:1.5px;top:65.5px;width:74.0px;height:0.5px;background:#e6e9ed;"></div>
<div class="t" style="left:4.5px;top:68.9px;font-size:3.05px;color:#1e2228;font-weight:400">お問い合わせXXXXXに社内コ...</div>
<div class="t" style="left:52.5px;top:69.2px;font-size:2.5px;color:#b5bac1;font-weight:400">2024/05/01 00:00</div>
<div class="a" style="left:1.5px;top:73.5px;width:74.0px;height:0.5px;background:#e6e9ed;"></div>
<div class="t" style="left:4.5px;top:76.9px;font-size:3.05px;color:#1e2228;font-weight:400">お問い合わせXXXXXに回答があ...</div>
<div class="t" style="left:52.5px;top:77.2px;font-size:2.5px;color:#b5bac1;font-weight:400">2024/05/01 00:00</div>
<div class="a" style="left:0.5px;top:87.8px;width:76.5px;height:52.0px;background:#fff;"></div>
<div class="a" style="left:4.5px;top:91.7px;width:1.4px;height:2.2px;background:#444;"></div>
<div class="a" style="left:5.9px;top:91.2px;width:2.2px;height:3.2px;background:#444;clip-path:polygon(0 30%,100% 0,100% 100%,0 70%)"></div>
<div class="t" style="left:9.5px;top:91.5px;font-size:3.9px;color:#26292e;font-weight:700">お知らせ</div>
<div class="t" style="left:55.5px;top:91.9px;font-size:3px;color:#2c63ad;font-weight:700">もっと見る ›</div>
<div class="a" style="left:5.0px;top:99.9px;width:12.5px;height:4.8px;background:#2f8fd9;border-radius:0.6px"></div>
<div class="t" style="left:6.1px;top:101.6px;font-size:2.6px;color:#fff;font-weight:700">お知らせ</div>
<div class="a" style="left:2.0px;top:101.5px;width:1.6px;height:1.6px;background:#e53935;border-radius:50%;"></div>
<div class="t" style="left:19.5px;top:101.4px;font-size:3.05px;color:#23272d;font-weight:700">夏季休暇のお知らせ</div>
<div class="t" style="left:52.5px;top:101.7px;font-size:2.5px;color:#b5bac1;font-weight:400">2024/05/01 00:00</div>
<div class="a" style="left:1.5px;top:105.9px;width:74.0px;height:0.5px;background:#e6e9ed;"></div>
<div class="a" style="left:5.0px;top:107.9px;width:12.5px;height:4.8px;background:#3a9846;border-radius:0.6px"></div>
<div class="t" style="left:6.1px;top:109.6px;font-size:2.6px;color:#fff;font-weight:700">リリース</div>
<div class="a" style="left:2.0px;top:109.5px;width:1.6px;height:1.6px;background:#e53935;border-radius:50%;"></div>
<div class="t" style="left:19.5px;top:109.4px;font-size:3.05px;color:#23272d;font-weight:700">製品番号XXXX新バー...</div>
<div class="t" style="left:52.5px;top:109.7px;font-size:2.5px;color:#b5bac1;font-weight:400">2024/05/01 00:00</div>
<div class="a" style="left:1.5px;top:113.9px;width:74.0px;height:0.5px;background:#e6e9ed;"></div>
<div class="a" style="left:5.0px;top:115.9px;width:12.5px;height:4.8px;background:#3a9846;border-radius:0.6px"></div>
<div class="t" style="left:6.1px;top:117.6px;font-size:2.6px;color:#fff;font-weight:700">リリース</div>
<div class="t" style="left:19.5px;top:117.4px;font-size:3.05px;color:#4a5058;font-weight:400">製品番号XXXX新バー...</div>
<div class="t" style="left:52.5px;top:117.7px;font-size:2.5px;color:#b5bac1;font-weight:400">2024/05/01 00:00</div>
<div class="a" style="left:1.5px;top:121.9px;width:74.0px;height:0.5px;background:#e6e9ed;"></div>
<div class="a" style="left:5.0px;top:123.9px;width:12.5px;height:4.8px;background:#3a9846;border-radius:0.6px"></div>
<div class="t" style="left:6.1px;top:125.6px;font-size:2.6px;color:#fff;font-weight:700">リリース</div>
<div class="t" style="left:19.5px;top:125.4px;font-size:3.05px;color:#4a5058;font-weight:400">製品番号XXXX新バー...</div>
<div class="t" style="left:52.5px;top:125.7px;font-size:2.5px;color:#b5bac1;font-weight:400">2024/05/01 00:00</div>
<div class="a" style="left:1.5px;top:129.9px;width:74.0px;height:0.5px;background:#e6e9ed;"></div>
<div class="a" style="left:5.0px;top:131.9px;width:12.5px;height:4.8px;background:#3a9846;border-radius:0.6px"></div>
<div class="t" style="left:6.1px;top:133.6px;font-size:2.6px;color:#fff;font-weight:700">リリース</div>
<div class="t" style="left:19.5px;top:133.4px;font-size:3.05px;color:#4a5058;font-weight:400">製品番号XXXX新バー...</div>
<div class="t" style="left:52.5px;top:133.7px;font-size:2.5px;color:#b5bac1;font-weight:400">2024/05/01 00:00</div>
<div class="a" style="left:0.5px;top:144.3px;width:76.5px;height:21.5px;background:#fff;"></div>
<div class="a" style="left:4.0px;top:147.8px;width:4.0px;height:2.8px;background:none;border:0.6px solid #444;border-radius:0.5px"></div>
<div class="t" style="left:9.5px;top:148.0px;font-size:3.9px;color:#26292e;font-weight:700">新着問い合わせ</div>
<div class="t" style="left:55.5px;top:148.4px;font-size:3px;color:#2c63ad;font-weight:700">もっと見る ›</div>
<div class="a" style="left:4.5px;top:158.3px;width:13.5px;height:5.5px;background:#2f8fd9;border-radius:0.6px"></div>
<div class="t" style="left:7.0px;top:160.3px;font-size:2.6px;color:#fff;font-weight:700">未対応</div>
<div class="t" style="left:20.5px;top:159.9px;font-size:3.05px;color:#5a6068;font-weight:400">問い合わせ</div>
</div>
<!-- Support mockups -->
<div class="a" style="left:1300.0px;top:266.0px;width:346.0px;height:177.8px;background:#030303;border-radius:9px 9px 0 0"></div>
<div class="a" style="left:1305.0px;top:276.0px;width:335.8px;height:167.8px;background:#fff;"></div>
<div class="a" style="left:1305.0px;top:276.0px;width:335.8px;height:5.8px;background:#80a8e3;"></div>
<div class="a" style="left:1618.0px;top:278.5px;width:2.0px;height:1px;background:#5c7fb5"></div>
<div class="a" style="left:1627.0px;top:278.5px;width:2.0px;height:1px;background:#5c7fb5"></div>
<div class="a" style="left:1636.0px;top:278.5px;width:2.0px;height:1px;background:#5c7fb5"></div>
<div class="a" style="left:1305.0px;top:281.8px;width:335.8px;height:6.9px;background:#f2f4f7;"></div>
<div class="a" style="left:1307.0px;top:284.4px;width:2.0px;height:1.6px;background:#8a93a0"></div>
<div class="t" style="left:1311.0px;top:284.5px;font-size:2.6px;color:#6b7480;font-weight:400;">remote.optim.cloud/remote-control/session/device/8c3f2a91/portal</div>
<div class="a" style="left:1637.0px;top:284.4px;width:2.5px;height:1.6px;background:#7f8894"></div>
<div class="a" style="left:1305.0px;top:288.7px;width:335.8px;height:8.7px;background:#fff;"></div>
<div class="a" style="left:1306.0px;top:289.6px;width:6.2px;height:6.4px;background:#1f7bc4;border-radius:1.5px"></div>
<div class="a" style="left:1307.3px;top:291.0px;width:3.6px;height:3.6px;border-radius:50%;background:none;border:0.6px solid #fff"></div>
<div class="t" style="left:1314.0px;top:292.2px;font-size:2.7px;color:#7c838c;font-weight:400;">Haruki Aoki</div>
<div class="a" style="left:1533.0px;top:289.8px;width:26.2px;height:6.5px;background:#2aa6ea;border-radius:1px"></div>
<div class="t" style="left:1537.0px;top:292.2px;font-size:2.8px;color:#fff;font-weight:700;">デバイス操作 ▼</div>
<div class="a" style="left:1562.0px;top:290.0px;width:4.0px;height:6.0px;background:#f3f4f6;"></div>
<div class="t" style="left:1567.0px;top:292.2px;font-size:2.7px;color:#7c838c;font-weight:400;">50%</div>
<div class="a" style="left:1576.0px;top:290.0px;width:4.0px;height:6.0px;background:#f3f4f6;"></div>
<div class="t" style="left:1586.0px;top:292.2px;font-size:2.7px;color:#5f9fe0;font-weight:400;">ファイル転送</div>
<div class="a" style="left:1606.5px;top:290.0px;width:19.0px;height:6.2px;background:#e8396e;border-radius:1px"></div>
<div class="t" style="left:1609.0px;top:292.2px;font-size:2.7px;color:#fff;font-weight:700;">画面録画開始</div>
<div class="a" style="left:1627.5px;top:290.0px;width:13.3px;height:6.2px;background:#e8396e;border-radius:1px 0 0 1px"></div>
<div class="t" style="left:1630.0px;top:292.2px;font-size:2.7px;color:#fff;font-weight:700;">終了</div>
<div class="a" style="left:1305.0px;top:297.4px;width:335.8px;height:0.5px;background:#d5d9de;"></div>
<svg class="a" style="left:1490px;top:297.9px" width="151" height="146" viewBox="1490 297.9 151 146">
<defs>
<linearGradient id="wpb" x1="0" y1="0" x2="1" y2="0.25"><stop offset="0" stop-color="#7f8596"/><stop offset="0.3" stop-color="#8a90a1"/><stop offset="0.5" stop-color="#9096a4"/><stop offset="0.62" stop-color="#b9aca6"/><stop offset="0.8" stop-color="#d3c2b8"/><stop offset="1" stop-color="#d6c5bb"/></linearGradient>
<radialGradient id="wps1"><stop offset="0" stop-color="#66574f"/><stop offset="1" stop-color="#66574f" stop-opacity="0"/></radialGradient>
<radialGradient id="wps2"><stop offset="0" stop-color="#6b7284"/><stop offset="1" stop-color="#6b7284" stop-opacity="0"/></radialGradient>
<linearGradient id="wph" x1="0" y1="0" x2="1" y2="1"><stop offset="0" stop-color="#e3c08f"/><stop offset="0.5" stop-color="#d3a772"/><stop offset="1" stop-color="#c89c6a"/></linearGradient>
<linearGradient id="wpseal" x1="0" y1="0" x2="1" y2="0"><stop offset="0" stop-color="#4f4331"/><stop offset="0.6" stop-color="#6a5a41"/><stop offset="1" stop-color="#5a4c38"/></linearGradient>
</defs>
<rect x="1490" y="297.9" width="151" height="146" fill="url(#wpb)"/>
<ellipse cx="1528" cy="318" rx="14" ry="9" fill="url(#wps2)" opacity="0.55"/>
<ellipse cx="1545" cy="345" rx="14" ry="12" fill="url(#wps2)" opacity="0.55"/>
<ellipse cx="1520" cy="350" rx="9" ry="14" fill="url(#wps2)" opacity="0.55"/>
<ellipse cx="1600" cy="331" rx="8" ry="5" fill="url(#wps1)"/>
<ellipse cx="1624" cy="334" rx="8" ry="6" fill="url(#wps1)"/>
<ellipse cx="1615" cy="310" rx="10" ry="7" fill="#dcc9c0" opacity="0.6"/>
<path d="M1490,309 L1500,308 L1504,322 L1507,340 L1512,356 L1516,370 L1517,443.8 L1490,443.8 Z" fill="url(#wpseal)"/>
<path d="M1547,370 C1546,355 1552,341 1563,338 C1575,336 1586,343 1592,354 L1593,370 Z" fill="url(#wph)"/>
<path d="M1576,370 L1579,361 L1598,357.5 L1641,342 L1641,370 Z" fill="#d9d6d1"/>
<path d="M1598,357.5 L1641,341.5" stroke="#b98b57" stroke-width="3"/>
<path d="M1588,365 l6,-4 M1605,362 l8,-3 M1622,356 l7,-3" stroke="#bdb8b1" stroke-width="1.2"/>
</svg>
<div class="a" style="left:1490.5px;top:301.5px;width:17.5px;height:7.0px;background:#e3e5e8;border-radius:3.5px"></div>
<div class="a" style="left:1627.0px;top:298.7px;width:8.7px;height:8.5px;background:#1e72c0;border-radius:2px"></div>
<div class="a" style="left:1628.8px;top:300.5px;width:5.0px;height:5.0px;border-radius:50%;background:none;border:0.7px solid #dceaf8"></div>
<div class="t" style="left:1624.0px;top:309.3px;font-size:2.3px;color:#e8edf3;font-weight:400;">SyncRemote</div>
<div class="a" style="left:1305.0px;top:297.9px;width:5.5px;height:145.9px;background:linear-gradient(#6b7f99,#8294ad 40%,#9aa3ae 60%,#7f8790);"></div>
<div class="a" style="left:1310.5px;top:297.9px;width:179.7px;height:145.9px;background:#fff;box-shadow:0 0 1px rgba(0,0,0,0.3)"></div>
<div class="t" style="left:1312.0px;top:299.7px;font-size:2.5px;color:#7c8591;font-weight:400;">サービス</div>
<div class="a" style="left:1475.0px;top:299.9px;width:2.0px;height:0.8px;background:#9aa1aa"></div>
<div class="a" style="left:1481.0px;top:299.7px;width:2.0px;height:1.2px;background:#9aa1aa"></div>
<div class="a" style="left:1486.0px;top:299.7px;width:2.0px;height:1.2px;background:#9aa1aa"></div>
<div class="t" style="left:1312.0px;top:304.0px;font-size:2.4px;color:#6c737d;font-weight:400;">ファイル(F)　操作(A)　表示(V)　ヘルプ(H)</div>
<div class="a" style="left:1312.0px;top:307.6px;width:2.0px;height:2.6px;background:#7fa2c7;"></div>
<div class="a" style="left:1315.0px;top:307.6px;width:2.0px;height:2.6px;background:#9ab0c8;"></div>
<div class="a" style="left:1318.0px;top:307.6px;width:2.0px;height:2.6px;background:#7fa2c7;"></div>
<div class="a" style="left:1321.0px;top:307.6px;width:2.0px;height:2.6px;background:#9ab0c8;"></div>
<div class="a" style="left:1324.0px;top:307.6px;width:2.0px;height:2.6px;background:#7fa2c7;"></div>
<div class="a" style="left:1327.0px;top:307.6px;width:2.0px;height:2.6px;background:#9ab0c8;"></div>
<div class="a" style="left:1330.0px;top:307.6px;width:2.0px;height:2.6px;background:#7fa2c7;"></div>
<div class="a" style="left:1333.0px;top:307.6px;width:2.0px;height:2.6px;background:#9ab0c8;"></div>
<div class="a" style="left:1336.0px;top:307.6px;width:2.0px;height:2.6px;background:#7fa2c7;"></div>
<div class="a" style="left:1339.0px;top:307.6px;width:2.0px;height:2.6px;background:#9ab0c8;"></div>
<div class="a" style="left:1342.0px;top:307.6px;width:2.0px;height:2.6px;background:#7fa2c7;"></div>
<div class="a" style="left:1311.0px;top:311.5px;width:179.2px;height:0.4px;background:#e3e6ea;"></div>
<div class="t" style="left:1312.0px;top:313.8px;font-size:2.4px;color:#6f7a88;font-weight:400;">サービス (ローカル)</div>
<div class="a" style="left:1331.3px;top:312.6px;width:1.2px;height:131.2px;background:#b9bfc7;"></div>
<div class="a" style="left:1332.3px;top:312.8px;width:157.9px;height:3.6px;background:#a8c2e6;"></div>
<div class="t" style="left:1335.0px;top:314.0px;font-size:2.4px;color:#5a78a4;font-weight:400;">サービス (ローカル)</div>
<div class="a" style="left:1332.3px;top:316.4px;width:37.7px;height:127.4px;background:#fff;"></div>
<div class="t" style="left:1333.0px;top:318.3px;font-size:2.3px;color:#4a5058;font-weight:700;">OPTiM Biz File Synchronizer - Agent</div>
<div class="t" style="left:1334.0px;top:322.1px;font-size:2.3px;color:#4f8fd6;font-weight:400;">サービスの停止</div>
<div class="t" style="left:1334.0px;top:324.3px;font-size:2.3px;color:#4f8fd6;font-weight:400;">サービスの再起動</div>
<div class="t" style="left:1371.0px;top:318.3px;font-size:2.3px;color:#6b727b;font-weight:400;">名前</div>
<div class="t" style="left:1416.0px;top:318.3px;font-size:2.3px;color:#6b727b;font-weight:400;">説明</div>
<div class="t" style="left:1482.0px;top:318.3px;font-size:2.3px;color:#6b727b;font-weight:400;">状態</div>
<div class="a" style="left:1370.3px;top:321.0px;width:2.6px;height:2.4px;background:#6f9ad1;border-radius:50%"></div>
<div class="t" style="left:1373.5px;top:321.6px;font-size:2.35px;color:#3f454d;font-weight:400;">Microsoft Store Install Service</div>
<div class="t" style="left:1416.0px;top:321.6px;font-size:2.35px;color:#3f454d;font-weight:400;width:66px;overflow:hidden">このサービスは、ネットワーク接続を監視し、インターネットへの接続を提供します。</div>
<div class="t" style="left:1484.0px;top:321.7px;font-size:2.2px;color:#5d646d;font-weight:400;">実行</div>
<div class="a" style="left:1370.3px;top:324.3px;width:2.6px;height:2.4px;background:#6f9ad1;border-radius:50%"></div>
<div class="t" style="left:1373.5px;top:324.9px;font-size:2.35px;color:#3f454d;font-weight:400;">Offline Files</div>
<div class="t" style="left:1416.0px;top:324.9px;font-size:2.35px;color:#3f454d;font-weight:400;width:66px;overflow:hidden">オフライン ファイル サービスは、オフライン ファイル キャッシュのメンテナンスを行います。</div>
<div class="t" style="left:1484.0px;top:325.0px;font-size:2.2px;color:#5d646d;font-weight:400;">実行</div>
<div class="a" style="left:1370.3px;top:327.6px;width:2.6px;height:2.4px;background:#6f9ad1;border-radius:50%"></div>
<div class="t" style="left:1373.5px;top:328.3px;font-size:2.35px;color:#3f454d;font-weight:400;">OpenSSH Authentication Agent</div>
<div class="t" style="left:1416.0px;top:328.3px;font-size:2.35px;color:#3f454d;font-weight:400;width:66px;overflow:hidden">Agent to hold private keys used for public key authentication.</div>
<div class="t" style="left:1484.0px;top:328.3px;font-size:2.2px;color:#5d646d;font-weight:400;">実行</div>
<div class="a" style="left:1370.3px;top:331.0px;width:2.6px;height:2.4px;background:#6f9ad1;border-radius:50%"></div>
<div class="t" style="left:1373.5px;top:331.6px;font-size:2.35px;color:#3f454d;font-weight:400;">OPTiM Biz - Windows Agent</div>
<div class="t" style="left:1484.0px;top:331.7px;font-size:2.2px;color:#5d646d;font-weight:400;">実行</div>
<div class="a" style="left:1370.3px;top:334.3px;width:2.6px;height:2.4px;background:#6f9ad1;border-radius:50%"></div>
<div class="t" style="left:1373.5px;top:334.9px;font-size:2.35px;color:#3f454d;font-weight:400;">OPTiM Biz Print Monitor - Agent</div>
<div class="t" style="left:1484.0px;top:335.0px;font-size:2.2px;color:#5d646d;font-weight:400;">実行</div>
<div class="a" style="left:1370.3px;top:337.6px;width:2.6px;height:2.4px;background:#6f9ad1;border-radius:50%"></div>
<div class="t" style="left:1373.5px;top:338.2px;font-size:2.35px;color:#3f454d;font-weight:400;">OPTiM Biz File Synchronizer - Agent</div>
<div class="t" style="left:1484.0px;top:338.3px;font-size:2.2px;color:#5d646d;font-weight:400;">実行</div>
<div class="a" style="left:1370.0px;top:337.2px;width:120.0px;height:3.2px;background:rgba(200,210,225,0.45);"></div>
<div class="a" style="left:1370.3px;top:340.9px;width:2.6px;height:2.4px;background:#6f9ad1;border-radius:50%"></div>
<div class="t" style="left:1373.5px;top:341.5px;font-size:2.35px;color:#3f454d;font-weight:400;">OPTiM Biz Monitoring Agent for Linux</div>
<div class="t" style="left:1416.0px;top:341.5px;font-size:2.35px;color:#3f454d;font-weight:400;width:66px;overflow:hidden">Linux system monitoring agent that collects device metrics and events.</div>
<div class="t" style="left:1484.0px;top:341.6px;font-size:2.2px;color:#5d646d;font-weight:400;">実行</div>
<div class="a" style="left:1370.3px;top:344.2px;width:2.6px;height:2.4px;background:#6f9ad1;border-radius:50%"></div>
<div class="t" style="left:1373.5px;top:344.9px;font-size:2.35px;color:#3f454d;font-weight:400;">Optimize drives</div>
<div class="t" style="left:1416.0px;top:344.9px;font-size:2.35px;color:#3f454d;font-weight:400;width:66px;overflow:hidden">Optional Bits Network Updater</div>
<div class="a" style="left:1370.3px;top:347.6px;width:2.6px;height:2.4px;background:#6f9ad1;border-radius:50%"></div>
<div class="t" style="left:1373.5px;top:348.2px;font-size:2.35px;color:#3f454d;font-weight:400;">Optional Bits Network Updater</div>
<div class="t" style="left:1416.0px;top:348.2px;font-size:2.35px;color:#3f454d;font-weight:400;width:66px;overflow:hidden">Optional Bits Updater</div>
<div class="t" style="left:1484.0px;top:348.3px;font-size:2.2px;color:#5d646d;font-weight:400;">実行</div>
<div class="a" style="left:1370.3px;top:350.9px;width:2.6px;height:2.4px;background:#6f9ad1;border-radius:50%"></div>
<div class="t" style="left:1373.5px;top:351.5px;font-size:2.35px;color:#3f454d;font-weight:400;">Optional Bits Updater</div>
<div class="t" style="left:1416.0px;top:351.5px;font-size:2.35px;color:#3f454d;font-weight:400;width:66px;overflow:hidden">Optional Remote WF Service</div>
<div class="t" style="left:1484.0px;top:351.6px;font-size:2.2px;color:#5d646d;font-weight:400;">実行</div>
<div class="a" style="left:1370.3px;top:354.2px;width:2.6px;height:2.4px;background:#6f9ad1;border-radius:50%"></div>
<div class="t" style="left:1373.5px;top:354.8px;font-size:2.35px;color:#3f454d;font-weight:400;">Optional Remote WF Service</div>
<div class="t" style="left:1416.0px;top:354.8px;font-size:2.35px;color:#3f454d;font-weight:400;width:66px;overflow:hidden">Optional Remote VF Service</div>
<div class="a" style="left:1370.3px;top:357.5px;width:2.6px;height:2.4px;background:#6f9ad1;border-radius:50%"></div>
<div class="t" style="left:1373.5px;top:358.1px;font-size:2.35px;color:#3f454d;font-weight:400;">Optional Remote VF Service</div>
<div class="t" style="left:1416.0px;top:358.1px;font-size:2.35px;color:#3f454d;font-weight:400;width:66px;overflow:hidden">保護者による制限を適用します。このサービスは、ユーザーのアカウントを管理します。</div>
<div class="t" style="left:1484.0px;top:358.2px;font-size:2.2px;color:#5d646d;font-weight:400;">実行</div>
<div class="a" style="left:1370.3px;top:360.8px;width:2.6px;height:2.4px;background:#6f9ad1;border-radius:50%"></div>
<div class="t" style="left:1373.5px;top:361.5px;font-size:2.35px;color:#3f454d;font-weight:400;">Parental Controls</div>
<div class="t" style="left:1416.0px;top:361.5px;font-size:2.35px;color:#3f454d;font-weight:400;width:66px;overflow:hidden">Windows 支払いのためのサービスを提供します。NFC とセキュア エレメントを管理します。</div>
<div class="a" style="left:1370.3px;top:364.2px;width:2.6px;height:2.4px;background:#6f9ad1;border-radius:50%"></div>
<div class="t" style="left:1373.5px;top:364.8px;font-size:2.35px;color:#3f454d;font-weight:400;">Payments and NFC/SE Manager</div>
<div class="t" style="left:1416.0px;top:364.8px;font-size:2.35px;color:#3f454d;font-weight:400;width:66px;overflow:hidden">ピア名解決プロトコルを使用して、インターネット上のピアを解決します。</div>
<div class="t" style="left:1484.0px;top:364.9px;font-size:2.2px;color:#5d646d;font-weight:400;">実行</div>
<div class="a" style="left:1370.3px;top:367.5px;width:2.6px;height:2.4px;background:#6f9ad1;border-radius:50%"></div>
<div class="t" style="left:1373.5px;top:368.1px;font-size:2.35px;color:#3f454d;font-weight:400;">Peer Name Resolution Protocol</div>
<div class="t" style="left:1416.0px;top:368.1px;font-size:2.35px;color:#3f454d;font-weight:400;width:66px;overflow:hidden">複数パーティでのグループ化を提供します。このサービスを停止すると、機能が使えません。</div>
<div class="t" style="left:1484.0px;top:368.2px;font-size:2.2px;color:#5d646d;font-weight:400;">実行</div>
<div class="a" style="left:1370.3px;top:370.8px;width:2.6px;height:2.4px;background:#6f9ad1;border-radius:50%"></div>
<div class="t" style="left:1373.5px;top:371.4px;font-size:2.35px;color:#3f454d;font-weight:400;">Peer Networking Grouping</div>
<div class="t" style="left:1416.0px;top:371.4px;font-size:2.35px;color:#3f454d;font-weight:400;width:66px;overflow:hidden">ピア ネットワーク グループ化サービスに ID サービスを提供します。</div>
<div class="t" style="left:1484.0px;top:371.5px;font-size:2.2px;color:#5d646d;font-weight:400;">実行</div>
<div class="a" style="left:1370.3px;top:374.1px;width:2.6px;height:2.4px;background:#6f9ad1;border-radius:50%"></div>
<div class="t" style="left:1373.5px;top:374.7px;font-size:2.35px;color:#3f454d;font-weight:400;">Peer Networking Identity Manager</div>
<div class="t" style="left:1416.0px;top:374.7px;font-size:2.35px;color:#3f454d;font-weight:400;width:66px;overflow:hidden">リモート ユーザーと 64 ビット プロセスがパフォーマンス カウンターを照会できます。</div>
<div class="t" style="left:1484.0px;top:374.8px;font-size:2.2px;color:#5d646d;font-weight:400;">実行</div>
<div class="a" style="left:1370.3px;top:377.4px;width:2.6px;height:2.4px;background:#6f9ad1;border-radius:50%"></div>
<div class="t" style="left:1373.5px;top:378.1px;font-size:2.35px;color:#3f454d;font-weight:400;">Performance Counter DLL Host</div>
<div class="t" style="left:1416.0px;top:378.1px;font-size:2.35px;color:#3f454d;font-weight:400;width:66px;overflow:hidden">Performance Logs and Alerts collects performance data from local or remote.</div>
<div class="a" style="left:1370.3px;top:380.8px;width:2.6px;height:2.4px;background:#6f9ad1;border-radius:50%"></div>
<div class="t" style="left:1373.5px;top:381.4px;font-size:2.35px;color:#3f454d;font-weight:400;">Performance Logs & Alerts</div>
<div class="t" style="left:1416.0px;top:381.4px;font-size:2.35px;color:#3f454d;font-weight:400;width:66px;overflow:hidden">電話の状態を管理します。</div>
<div class="t" style="left:1484.0px;top:381.5px;font-size:2.2px;color:#5d646d;font-weight:400;">実行</div>
<div class="a" style="left:1370.3px;top:384.1px;width:2.6px;height:2.4px;background:#6f9ad1;border-radius:50%"></div>
<div class="t" style="left:1373.5px;top:384.7px;font-size:2.35px;color:#3f454d;font-weight:400;">Phone Service</div>
<div class="t" style="left:1416.0px;top:384.7px;font-size:2.35px;color:#3f454d;font-weight:400;width:66px;overflow:hidden">ユーザーの操作をほとんど必要とせずにハードウェアの変更を認識して適応します。</div>
<div class="a" style="left:1370.3px;top:387.4px;width:2.6px;height:2.4px;background:#6f9ad1;border-radius:50%"></div>
<div class="t" style="left:1373.5px;top:388.0px;font-size:2.35px;color:#3f454d;font-weight:400;">Plug and Play</div>
<div class="t" style="left:1416.0px;top:388.0px;font-size:2.35px;color:#3f454d;font-weight:400;width:66px;overflow:hidden">コンピューター名を発行するサービスを提供します。</div>
<div class="t" style="left:1484.0px;top:388.1px;font-size:2.2px;color:#5d646d;font-weight:400;">実行</div>
<div class="a" style="left:1370.3px;top:390.7px;width:2.6px;height:2.4px;background:#6f9ad1;border-radius:50%"></div>
<div class="t" style="left:1373.5px;top:391.3px;font-size:2.35px;color:#3f454d;font-weight:400;">PNRP Machine Name Publication Service</div>
<div class="t" style="left:1416.0px;top:391.3px;font-size:2.35px;color:#3f454d;font-weight:400;width:66px;overflow:hidden">リムーバブル大容量記憶装置のグループ ポリシーを強制します。</div>
<div class="t" style="left:1484.0px;top:391.4px;font-size:2.2px;color:#5d646d;font-weight:400;">実行</div>
<div class="a" style="left:1370.3px;top:394.0px;width:2.6px;height:2.4px;background:#6f9ad1;border-radius:50%"></div>
<div class="t" style="left:1373.5px;top:394.7px;font-size:2.35px;color:#3f454d;font-weight:400;">Portable Device Enumerator Service</div>
<div class="t" style="left:1416.0px;top:394.7px;font-size:2.35px;color:#3f454d;font-weight:400;width:66px;overflow:hidden">電源ポリシーと電源ポリシーの通知配信を管理します。</div>
<div class="a" style="left:1370.3px;top:397.4px;width:2.6px;height:2.4px;background:#6f9ad1;border-radius:50%"></div>
<div class="t" style="left:1373.5px;top:398.0px;font-size:2.35px;color:#3f454d;font-weight:400;">Power</div>
<div class="t" style="left:1416.0px;top:398.0px;font-size:2.35px;color:#3f454d;font-weight:400;width:66px;overflow:hidden">このサービスは、ジョブをメモリにスプールし、印刷を処理します。</div>
<div class="t" style="left:1484.0px;top:398.1px;font-size:2.2px;color:#5d646d;font-weight:400;">実行</div>
<div class="a" style="left:1370.3px;top:400.7px;width:2.6px;height:2.4px;background:#6f9ad1;border-radius:50%"></div>
<div class="t" style="left:1373.5px;top:401.3px;font-size:2.35px;color:#3f454d;font-weight:400;">Print Spooler</div>
<div class="t" style="left:1416.0px;top:401.3px;font-size:2.35px;color:#3f454d;font-weight:400;width:66px;overflow:hidden">このサービスは、プリンターのベンダー拡張機能を開きます。</div>
<div class="t" style="left:1484.0px;top:401.4px;font-size:2.2px;color:#5d646d;font-weight:400;">実行</div>
<div class="a" style="left:1370.3px;top:404.0px;width:2.6px;height:2.4px;background:#6f9ad1;border-radius:50%"></div>
<div class="t" style="left:1373.5px;top:404.6px;font-size:2.35px;color:#3f454d;font-weight:400;">Printer Extensions and Notifications</div>
<div class="t" style="left:1416.0px;top:404.6px;font-size:2.35px;color:#3f454d;font-weight:400;width:66px;overflow:hidden">印刷ワークフロー アプリケーションのサポートを提供します。</div>
<div class="t" style="left:1484.0px;top:404.7px;font-size:2.2px;color:#5d646d;font-weight:400;">実行</div>
<div class="a" style="left:1370.3px;top:407.3px;width:2.6px;height:2.4px;background:#6f9ad1;border-radius:50%"></div>
<div class="t" style="left:1373.5px;top:407.9px;font-size:2.35px;color:#3f454d;font-weight:400;">PrintWorkflow_1c9b3</div>
<div class="t" style="left:1416.0px;top:407.9px;font-size:2.35px;color:#3f454d;font-weight:400;width:66px;overflow:hidden">このサービスは、問題のレポートを表示、送信、削除するためのサポートを提供します。</div>
<div class="a" style="left:1370.3px;top:410.6px;width:2.6px;height:2.4px;background:#6f9ad1;border-radius:50%"></div>
<div class="t" style="left:1373.5px;top:411.3px;font-size:2.35px;color:#3f454d;font-weight:400;">Problem Reports Control Panel Support</div>
<div class="t" style="left:1416.0px;top:411.3px;font-size:2.35px;color:#3f454d;font-weight:400;width:66px;overflow:hidden">このサービスは、プログラム互換性アシスタントのサポートを提供します。</div>
<div class="t" style="left:1484.0px;top:411.3px;font-size:2.2px;color:#5d646d;font-weight:400;">実行</div>
<div class="a" style="left:1370.3px;top:414.0px;width:2.6px;height:2.4px;background:#6f9ad1;border-radius:50%"></div>
<div class="t" style="left:1373.5px;top:414.6px;font-size:2.35px;color:#3f454d;font-weight:400;">Program Compatibility Assistant Service</div>
<div class="t" style="left:1416.0px;top:414.6px;font-size:2.35px;color:#3f454d;font-weight:400;width:66px;overflow:hidden">品質の高いオーディオとビデオのストリーミングのためのネットワーク プラットフォーム。</div>
<div class="a" style="left:1370.3px;top:417.3px;width:2.6px;height:2.4px;background:#6f9ad1;border-radius:50%"></div>
<div class="t" style="left:1373.5px;top:417.9px;font-size:2.35px;color:#3f454d;font-weight:400;">Quality Windows Audio Video Experience</div>
<div class="t" style="left:1416.0px;top:417.9px;font-size:2.35px;color:#3f454d;font-weight:400;width:66px;overflow:hidden">Fn Radio Management and Airplane mode service</div>
<div class="a" style="left:1370.3px;top:420.6px;width:2.6px;height:2.4px;background:#6f9ad1;border-radius:50%"></div>
<div class="t" style="left:1373.5px;top:421.2px;font-size:2.35px;color:#3f454d;font-weight:400;">Radio Management Service</div>
<div class="t" style="left:1416.0px;top:421.2px;font-size:2.35px;color:#3f454d;font-weight:400;width:66px;overflow:hidden">プログラムがリモートの DNS 名またはアドレスを参照するたびに接続を作成します。</div>
<div class="a" style="left:1370.3px;top:423.9px;width:2.6px;height:2.4px;background:#6f9ad1;border-radius:50%"></div>
<div class="t" style="left:1373.5px;top:424.5px;font-size:2.35px;color:#3f454d;font-weight:400;">Remote Access Auto Connection Manager</div>
<div class="t" style="left:1416.0px;top:424.5px;font-size:2.35px;color:#3f454d;font-weight:400;width:66px;overflow:hidden">このコンピューターからインターネットへのダイヤルアップ接続と VPN 接続を管理します。</div>
<div class="a" style="left:1370.3px;top:427.2px;width:2.6px;height:2.4px;background:#6f9ad1;border-radius:50%"></div>
<div class="t" style="left:1373.5px;top:427.9px;font-size:2.35px;color:#3f454d;font-weight:400;">Remote Access Connection Manager</div>
<div class="t" style="left:1416.0px;top:427.9px;font-size:2.35px;color:#3f454d;font-weight:400;width:66px;overflow:hidden">リモート デスクトップ構成サービスは、リモート デスクトップ関連の構成を行います。</div>
<div class="t" style="left:1484.0px;top:427.9px;font-size:2.2px;color:#5d646d;font-weight:400;">実行</div>
<div class="a" style="left:1370.3px;top:430.6px;width:2.6px;height:2.4px;background:#6f9ad1;border-radius:50%"></div>
<div class="t" style="left:1373.5px;top:431.2px;font-size:2.35px;color:#3f454d;font-weight:400;">Remote Desktop Configuration</div>
<div class="t" style="left:1416.0px;top:431.2px;font-size:2.35px;color:#3f454d;font-weight:400;width:66px;overflow:hidden">ユーザーがリモート コンピューターに対話的に接続することを許可します。</div>
<div class="a" style="left:1370.3px;top:433.9px;width:2.6px;height:2.4px;background:#6f9ad1;border-radius:50%"></div>
<div class="t" style="left:1373.5px;top:434.5px;font-size:2.35px;color:#3f454d;font-weight:400;">Remote Desktop Services</div>
<div class="t" style="left:1416.0px;top:434.5px;font-size:2.35px;color:#3f454d;font-weight:400;width:66px;overflow:hidden">RDP 接続のためのプリンター/ドライブ/ポートのリダイレクトを許可します。</div>
<div class="t" style="left:1484.0px;top:434.6px;font-size:2.2px;color:#5d646d;font-weight:400;">実行</div>
<div class="a" style="left:1370.3px;top:437.2px;width:2.6px;height:2.4px;background:#6f9ad1;border-radius:50%"></div>
<div class="t" style="left:1373.5px;top:437.8px;font-size:2.35px;color:#3f454d;font-weight:400;">Remote Desktop Services UserMode Port Re...</div>
<div class="t" style="left:1416.0px;top:437.8px;font-size:2.35px;color:#3f454d;font-weight:400;width:66px;overflow:hidden">RPCSS サービスは、COM および DCOM サーバーのサービス コントロール マネージャーです。</div>
<div class="a" style="left:1370.3px;top:440.5px;width:2.6px;height:2.4px;background:#6f9ad1;border-radius:50%"></div>
<div class="t" style="left:1373.5px;top:441.1px;font-size:2.35px;color:#3f454d;font-weight:400;">Remote Procedure Call (RPC)</div>
<div class="t" style="left:1416.0px;top:441.1px;font-size:2.35px;color:#3f454d;font-weight:400;width:66px;overflow:hidden">Windows 2003 以前のバージョンでは、RPC ロケーター サービスは名前を管理していました。</div>
<div class="a" style="left:1487.8px;top:352.0px;width:1.8px;height:20.0px;background:#c6cad0;border-radius:1px"></div>
<div class="a" style="left:1502.7px;top:369.3px;width:137.5px;height:74.5px;background:#fff;box-shadow:0 0 2px rgba(0,0,0,0.25)"></div>
<div class="a" style="left:1502.7px;top:369.3px;width:137.5px;height:51.1px;background:#efefef;"></div>
<div class="t" style="left:1505.0px;top:371.7px;font-size:2.4px;color:#555;font-weight:400;">設定</div>
<div class="a" style="left:1622.0px;top:371.9px;width:2.0px;height:0.8px;background:#777"></div>
<div class="a" style="left:1630.0px;top:371.8px;width:2.0px;height:1px;background:#777"></div>
<div class="a" style="left:1637.0px;top:371.8px;width:2.0px;height:1px;background:#777"></div>
<div class="a" style="left:1548.9px;top:379.0px;width:18.0px;height:18.0px;border-radius:50%;background:#e2e2e2;"></div>
<div class="a" style="left:1555.1px;top:382.2px;width:5.6px;height:5.6px;border-radius:50%;background:none;border:0.9px solid #3a3a3a"></div>
<div class="a" style="left:1552.4px;top:389.5px;width:11px;height:5px;border:0.9px solid #3a3a3a;border-bottom:none;border-radius:6px 6px 0 0"></div>
<div class="t" style="left:1533.0px;top:400.4px;font-size:3.6px;color:#33373c;font-weight:700;">Windows およびリモート デスクトップ</div>
<div class="t" style="left:1533.0px;top:404.7px;font-size:2.4px;color:#8f949a;font-weight:400;">レイアウトの変更を適用するにはサインアウトしてください</div>
<div class="a" style="left:1533.0px;top:409.6px;width:21.6px;height:5.0px;background:#c9c9c9;"></div>
<div class="t" style="left:1537.0px;top:411.5px;font-size:2.5px;color:#555a60;font-weight:400;">今すぐ適用</div>
<div class="t" style="left:1557.0px;top:411.5px;font-size:2.5px;color:#4a8fd8;font-weight:400;">今回はスキップ</div>
<div class="a" style="left:1543.0px;top:427.0px;width:37.0px;height:4.0px;background:#fff;border:0.7px solid #3f86d4"></div>
<div class="t" style="left:1545.0px;top:428.5px;font-size:2.2px;color:#a7adb5;font-weight:400;">PINを入力</div>
<div class="t" style="left:1531.0px;top:437.0px;font-size:2.3px;color:#b0b5bb;font-weight:400;">サインイン オプション</div>
<div class="a" style="left:1564.7px;top:382.2px;width:346.1px;height:179.8px;background:#030303;border-radius:9px 9px 0 0"></div>
<div class="a" style="left:1569.0px;top:391.8px;width:336.2px;height:170.2px;background:#eef2f6;"></div>
<div class="a" style="left:1569.0px;top:391.8px;width:336.2px;height:12.9px;background:#07468c;"></div>
<div class="a" style="left:1700.0px;top:393.5px;width:63.4px;height:9.3px;background:#fff;border-radius:1px"></div>
<div class="t" style="left:1704.0px;top:397.0px;font-size:3.6px;color:#b9bfc7;font-weight:400;">キーワード検索</div>
<div class="a" style="left:1769.0px;top:396.6px;width:3.0px;height:3.0px;border-radius:50%;background:none;border:0.8px solid #fff"></div>
<div class="a" style="left:1882.9px;top:394.6px;width:7.2px;height:7.2px;border-radius:50%;background:none;border:0.8px solid #d3dcea"></div>
<div class="a" style="left:1894.8px;top:393.2px;width:10.0px;height:10.0px;border-radius:50%;background:#f3f5f8;"></div>
<div class="a" style="left:1898.3px;top:395.3px;width:3.0px;height:3.0px;border-radius:50%;background:#5a6270;"></div>
<div class="a" style="left:1896.8px;top:399.6px;width:6.0px;height:2.0px;background:#5a6270;border-radius:2px 2px 0 0"></div>
<div class="a" style="left:1569.0px;top:404.7px;width:336.2px;height:14.2px;background:#fff;box-shadow:0 0.5px 1px rgba(0,0,0,0.08)"></div>
<div class="a" style="left:1645.5px;top:410.0px;width:3.6px;height:3.6px;background:none;border:0.7px solid #6a7078;border-radius:0.6px"></div>
<div class="t" style="left:1650.0px;top:410.6px;font-size:3.6px;color:#6a7078;font-weight:400;">TOP</div>
<div class="a" style="left:1667.5px;top:410.0px;width:3.6px;height:3.6px;background:none;border:0.7px solid #1d56a0;border-radius:0.6px"></div>
<div class="t" style="left:1672.5px;top:410.6px;font-size:3.6px;color:#1d56a0;font-weight:700;">機器</div>
<div class="a" style="left:1690.0px;top:410.0px;width:3.6px;height:3.6px;background:none;border:0.7px solid #6a7078;border-radius:0.6px"></div>
<div class="t" style="left:1695.0px;top:410.6px;font-size:3.6px;color:#6a7078;font-weight:400;">規則</div>
<div class="a" style="left:1708.0px;top:410.0px;width:3.6px;height:3.6px;background:none;border:0.7px solid #6a7078;border-radius:0.6px"></div>
<div class="t" style="left:1713.0px;top:410.6px;font-size:3.6px;color:#6a7078;font-weight:400;">FAQ</div>
<div class="a" style="left:1733.0px;top:410.0px;width:3.6px;height:3.6px;background:none;border:0.7px solid #6a7078;border-radius:0.6px"></div>
<div class="t" style="left:1738.0px;top:410.6px;font-size:3.6px;color:#6a7078;font-weight:400;">問い合わせ</div>
<div class="a" style="left:1772.0px;top:410.0px;width:3.6px;height:3.6px;background:none;border:0.7px solid #6a7078;border-radius:0.6px"></div>
<div class="t" style="left:1777.0px;top:410.6px;font-size:3.6px;color:#6a7078;font-weight:400;">お知らせ</div>
<div class="a" style="left:1803.0px;top:410.0px;width:3.6px;height:3.6px;background:none;border:0.7px solid #6a7078;border-radius:0.6px"></div>
<div class="t" style="left:1808.0px;top:410.6px;font-size:3.6px;color:#6a7078;font-weight:400;">設定 ▼</div>
<div class="a" style="left:1765.6px;top:410.9px;width:1.8px;height:1.8px;border-radius:50%;background:#e53935;"></div>
<div class="a" style="left:1667.0px;top:417.5px;width:22.0px;height:1.4px;background:#1d56a0;"></div>
<div class="t" style="left:1575.0px;top:423.9px;font-size:3.7px;color:#2a5aa0;font-weight:700;">機器</div>
<div class="t" style="left:1587.5px;top:424.3px;font-size:3px;color:#9aa0a8;font-weight:400;">›</div>
<div class="t" style="left:1591.0px;top:423.9px;font-size:3.7px;color:#4a5058;font-weight:400;">詳細</div>
<div class="a" style="left:1572.5px;top:431.7px;width:329.8px;height:130.3px;background:#fff;border-radius:1.5px 1.5px 0 0"></div>
<div class="t" style="left:1577.0px;top:439.9px;font-size:4.7px;color:#2a5aa0;font-weight:700;">医療検査機器</div>
<div class="t" style="left:1609.5px;top:440.5px;font-size:3.6px;color:#2a5aa0;font-weight:700;">^</div>
<div class="a" style="left:1867.4px;top:437.4px;width:19.1px;height:9.3px;background:#fff;border:0.7px solid #3e6fb3;border-radius:1.5px"></div>
<div class="t" style="left:1873.0px;top:441.0px;font-size:3.3px;color:#2a5aa0;font-weight:700;">編集</div>
<div class="a" style="left:1889.0px;top:437.4px;width:9.5px;height:9.3px;background:#d6e1ef;border-radius:1.5px"></div>
<div class="t" style="left:1891.0px;top:441.0px;font-size:2.5px;color:#4d76b0;font-weight:400;">•••</div>
<div class="a" style="left:1866.0px;top:447.5px;width:32.5px;height:25.0px;background:#fff;box-shadow:0 0.5px 2px rgba(0,0,0,0.22);border-radius:1.5px"></div>
<div class="t" style="left:1869.0px;top:451.9px;font-size:3.4px;color:#42474e;font-weight:400;">複製</div>
<div class="t" style="left:1869.0px;top:464.7px;font-size:3.4px;color:#42474e;font-weight:400;">削除</div>
<div class="a" style="left:1577.0px;top:448.5px;width:20.5px;height:21.0px;background:#fff;border:0.6px solid #d9dde2;border-radius:2px"></div>
<div class="a" style="left:1582.0px;top:452.0px;width:10.0px;height:11.0px;background:linear-gradient(#c4ccd8,#eef1f5);opacity:0.8"></div>
<div class="a" style="left:1583.0px;top:457.4px;width:8.0px;height:1.2px;background:#7c8aa0"></div>
<div class="t" style="left:1600.0px;top:450.9px;font-size:2.7px;color:#595f67;font-weight:400;">型番：PX-600　導入日：2024/01/23 00:00　更新日：2024/05/23</div>
<div class="a" style="left:1600.0px;top:456.8px;width:17.5px;height:4.5px;background:#eef0f3;border-radius:2px"></div>
<div class="t" style="left:1602.5px;top:458.3px;font-size:2.6px;color:#6a7078;font-weight:400;">グループ1</div>
<div class="a" style="left:1620.0px;top:456.8px;width:37.5px;height:4.5px;background:#eef0f3;border-radius:2px"></div>
<div class="t" style="left:1622.5px;top:458.3px;font-size:2.6px;color:#6a7078;font-weight:400;">グループ2/グループ3</div>
<div class="t" style="left:1600.0px;top:465.6px;font-size:2.7px;color:#595f67;font-weight:400;">単価：¥1,000,000/台</div>
<div class="t" style="left:1581.0px;top:478.2px;font-size:3.6px;color:#5a6068;font-weight:400;">マニュアル</div>
<div class="t" style="left:1612.0px;top:478.2px;font-size:3.6px;color:#5a6068;font-weight:400;">FAQ</div>
<div class="t" style="left:1629.0px;top:478.2px;font-size:3.6px;color:#5a6068;font-weight:400;">問い合わせ</div>
<div class="t" style="left:1659.0px;top:478.2px;font-size:3.6px;color:#2a5aa0;font-weight:700;">ファイル</div>
<div class="a" style="left:1655.0px;top:484.2px;width:25.3px;height:0.8px;background:#2a5aa0;"></div>
<div class="t" style="left:1577.0px;top:492.7px;font-size:3.9px;color:#1e2226;font-weight:700;">ファイル</div>
<div class="a" style="left:1603.5px;top:489.0px;width:24.0px;height:10.0px;background:#fff;border:0.6px solid #6f97cc;border-radius:1.5px"></div>
<div class="t" style="left:1605.5px;top:492.9px;font-size:3.5px;color:#2a5aa0;font-weight:700;">↓ ログ取得</div>
<div class="a" style="left:1629.0px;top:489.0px;width:32.0px;height:10.0px;background:#fff;border:0.6px solid #6f97cc;border-radius:1.5px"></div>
<div class="t" style="left:1630.5px;top:492.9px;font-size:3.5px;color:#2a5aa0;font-weight:700;">□ アップロード</div>
<div class="t" style="left:1580.0px;top:506.9px;font-size:3.9px;color:#3f454d;font-weight:400;">v 2024071100000</div>
<div class="a" style="left:1581.0px;top:539.0px;width:80.0px;height:10.3px;background:#dde5ef;"></div>
<div class="t" style="left:1583.0px;top:517.4px;font-size:3.9px;color:#3f454d;font-weight:400;">20240711000000000.xxx</div>
<div class="t" style="left:1583.0px;top:530.0px;font-size:3.9px;color:#3f454d;font-weight:400;">20240711000000000.xxx</div>
<div class="t" style="left:1583.0px;top:542.9px;font-size:3.9px;color:#3f454d;font-weight:400;">20240711000000000.xxx</div>
<div class="a" style="left:1664.7px;top:489.0px;width:237.6px;height:14.0px;background:#eff1f3;"></div>
<div class="t" style="left:1669.0px;top:494.7px;font-size:3.9px;color:#1e2226;font-weight:700;">20240711000000000.xxx</div>
<div class="a" style="left:1847.6px;top:491.5px;width:18.4px;height:9.0px;background:#fff;border:0.6px solid #c5cad1;border-radius:1.5px"></div>
<div class="t" style="left:1849.5px;top:495.1px;font-size:3px;color:#2e3238;font-weight:700;">名前の編集</div>
<div class="a" style="left:1872.0px;top:491.5px;width:19.0px;height:9.0px;background:#fff;border:0.6px solid #6f97cc;border-radius:1.5px"></div>
<div class="t" style="left:1873.5px;top:495.1px;font-size:3px;color:#2a5aa0;font-weight:700;">ダウンロード</div>
<div class="a" style="left:1664.7px;top:503.0px;width:237.6px;height:59.0px;background:#474c54;"></div>
<div class="t" style="left:1669.0px;top:508.8px;font-size:2.9px;color:#e8eaed;font-weight:400;">import org.slf4j.Logger;</div>
<div class="t" style="left:1669.0px;top:513.5px;font-size:2.9px;color:#e8eaed;font-weight:400;">import org.slf4j.LoggerFactory;</div>
<div class="t" style="left:1669.0px;top:522.9px;font-size:2.9px;color:#e8eaed;font-weight:400;">public class Qsidetest {</div>
<div class="t" style="left:1670.0px;top:527.4px;font-size:2.9px;color:#e8eaed;font-weight:400;">  private static final Logger logger = LoggerFactory.getLogger(Qsidetest.class);</div>
<div class="t" style="left:1671.0px;top:536.9px;font-size:2.9px;color:#e8eaed;font-weight:400;">  public static void main(String[] args) {</div>
<div class="t" style="left:1672.0px;top:541.4px;font-size:2.9px;color:#e8eaed;font-weight:400;">    logger.info("Logging INFO with Logback");</div>
<div class="t" style="left:1672.0px;top:546.1px;font-size:2.9px;color:#e8eaed;font-weight:400;">    logger.error("Logging ERROR with Logback");</div>
<div class="t" style="left:1672.0px;top:550.8px;font-size:2.9px;color:#e8eaed;font-weight:400;">  }</div>
<div class="t" style="left:1669.0px;top:555.4px;font-size:2.9px;color:#e8eaed;font-weight:400;">}</div>
<div class="a" style="left:1902.3px;top:431.7px;width:2.9px;height:130.3px;background:#fff;"></div>
<svg class="a" style="left:740px;top:228px" width="90" height="40" viewBox="740 228 90 40">
  <g fill="#0a0a0a">
    <path fill-rule="evenodd" d="M755.5,236.3 C751.5,236.3 749.1,238.6 749.1,242.3 L749.1,253.9 C749.1,257.6 751.5,259.9 755.5,259.9 C759.6,259.9 762,257.6 762,253.9 L762,242.3 C762,238.6 759.6,236.3 755.5,236.3 Z M754.6,240.3 L756.8,240.3 L756.8,256 L754.6,256 Z"/>
    <path fill-rule="evenodd" d="M764.4,237 L772.2,237 C774.8,237 776.3,238.8 776.3,241.5 L776.3,246.2 C776.3,248.9 774.8,250.6 772.2,250.6 L770.1,250.6 L770.1,259.9 L764.4,259.9 Z M770.1,240.3 L770.1,247.2 L771.2,247.2 C771.9,247.2 772.2,246.8 772.2,246 L772.2,241.5 C772.2,240.7 771.9,240.3 771.2,240.3 Z"/>
    <path d="M778.2,237 L789.7,237 L789.7,241.6 L786.5,241.6 L786.5,259.9 L781.3,259.9 L781.3,241.6 L778.2,241.6 Z"/>
    <rect x="792.3" y="237" width="5.1" height="3.9"/>
    <rect x="792.3" y="243.1" width="5.1" height="16.8"/>
    <path d="M800,237 L806,237 L807.9,249.5 L809.8,237 L815.6,237 L815.6,259.9 L811.2,259.9 L811.2,246 L809.4,259.9 L806.3,259.9 L804.5,246 L804.5,259.9 L800,259.9 Z"/>
  </g>
  <circle cx="818.6" cy="239.4" r="2.1" fill="none" stroke="#555" stroke-width="0.7"/>
  <path d="M817.9,240.6 L817.9,238.3 L819,238.3 C819.6,238.3 819.6,239.4 819,239.4 L818,239.4 M818.8,239.4 L819.4,240.6" fill="none" stroke="#555" stroke-width="0.5"/>
</svg>

<!-- Portal title -->
<div class="t" style="left:829px;top:228px;font-size:38px;color:#1e1e1e;transform:scaleX(0.876);transform-origin:0 0;-webkit-text-stroke:1.3px #f1f5f9">Hardware My Portal</div>

<!-- Footnote -->
<div class="t" style="left:50.5px;top:688px;font-size:25px;color:#1a1a1a">※</div>
<div class="t" style="left:99px;top:686px;font-size:22px;letter-spacing:1.45px;color:#1a1a1a"><span style="font-size:25px;letter-spacing:-0.2px">IoT GW</span>（<span style="font-size:25px;letter-spacing:-0.2px">IoT</span> ゲートウェイ）とは、<span style="font-size:25px;letter-spacing:-0.2px">IoT</span> システムにおいて、デバイスとクラウド間のデータ送受信を仲介する役割を担う機器のことです。</div>
<div class="t" style="left:100px;top:721px;font-size:22px;letter-spacing:1.45px;color:#1a1a1a">異なる通信規格を持つデバイス間の接続を可能にし、モバイル通信で暗号化された専用のネットワークを構築します。</div>

</body>
</html>
